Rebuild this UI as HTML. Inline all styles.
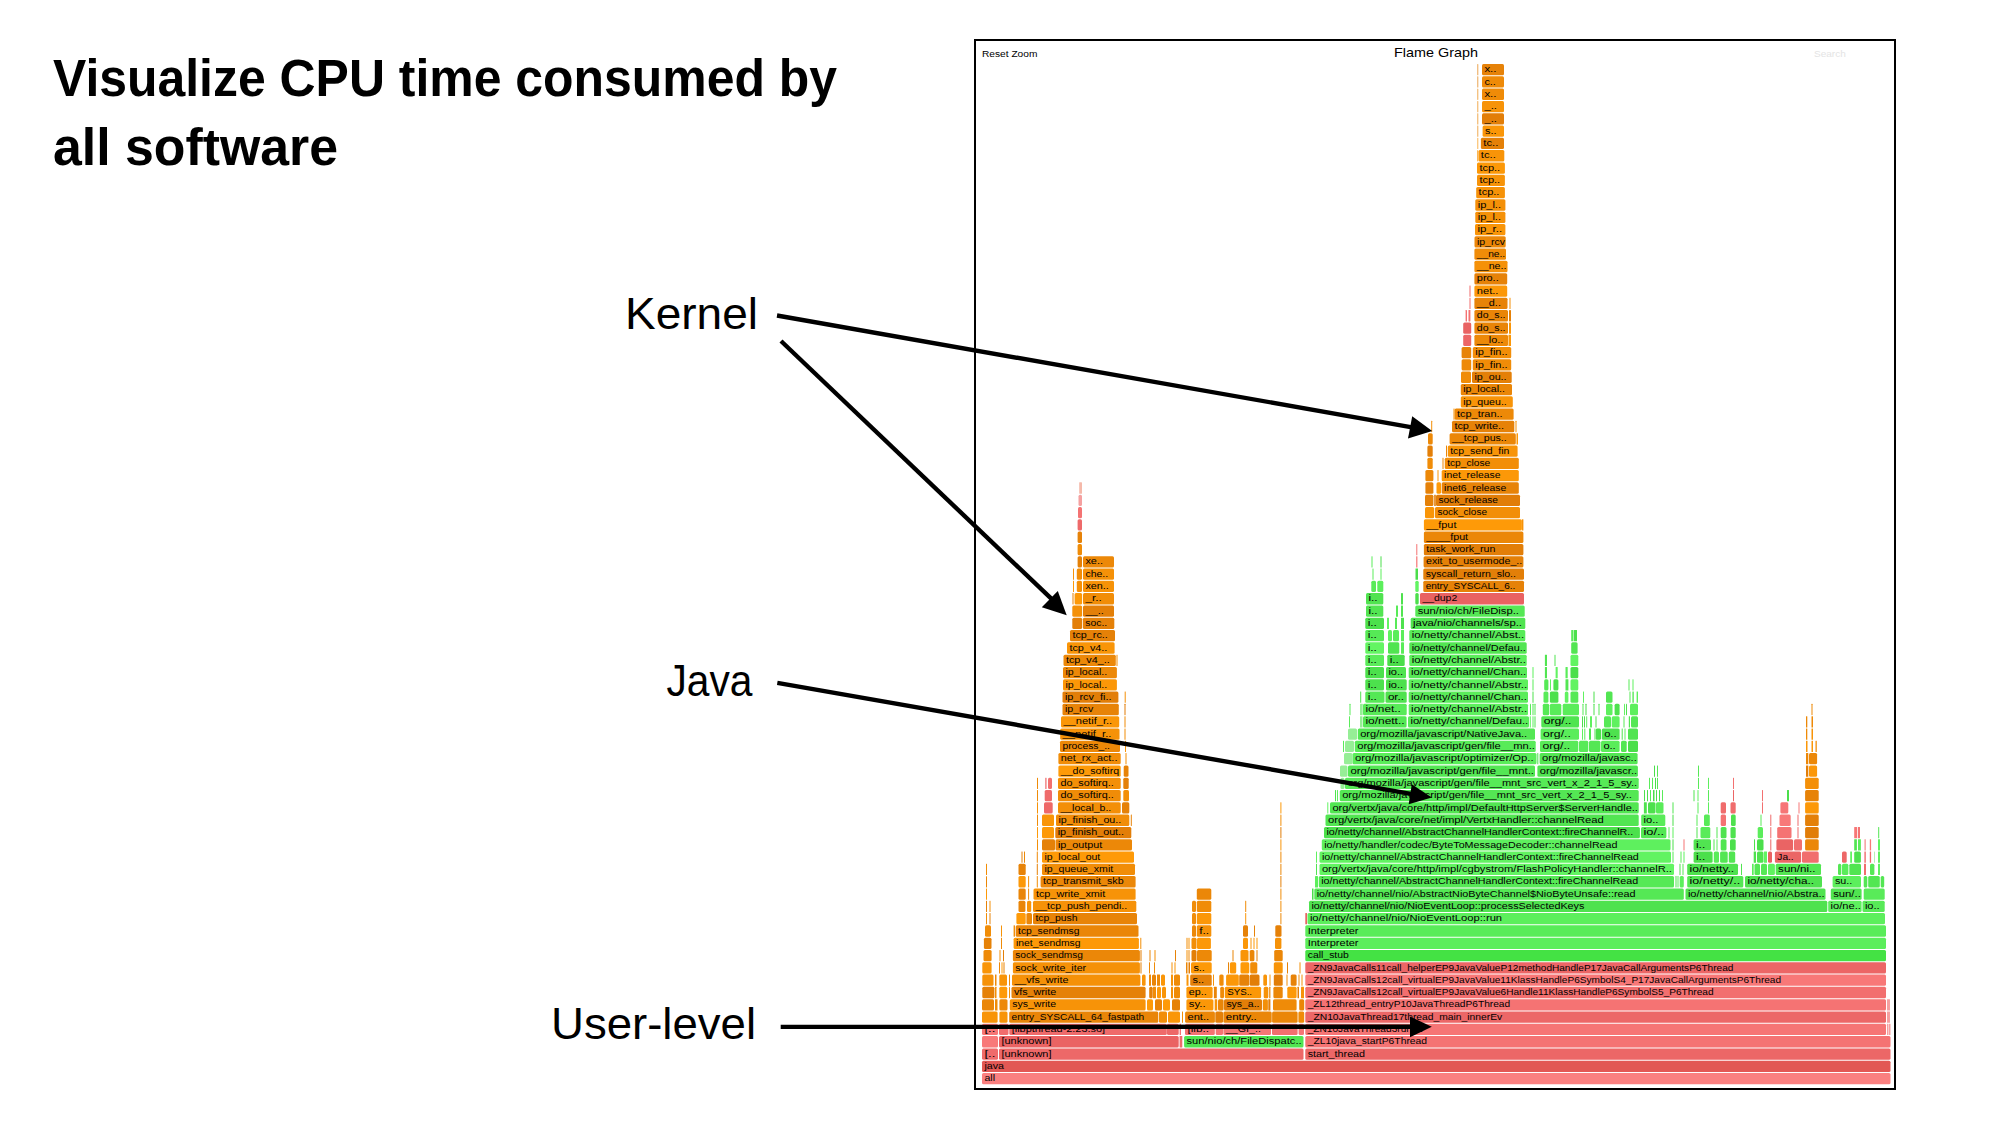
<!DOCTYPE html>
<html><head><meta charset="utf-8"><title>Flame Graph</title>
<style>
html,body{margin:0;padding:0;background:#fff;}
body{width:1998px;height:1125px;overflow:hidden;position:relative;}
svg{position:absolute;left:0;top:0;}
.t{font-family:"Liberation Sans",sans-serif;}
.fg text{font-family:"Liberation Sans",sans-serif;font-size:9.2px;fill:#000;}
</style></head>
<body>
<svg width="1998" height="1125" viewBox="0 0 1998 1125">
<g class="t" font-weight="bold" font-size="51" fill="#000">
<text x="53" y="95.6" textLength="784" lengthAdjust="spacingAndGlyphs">Visualize CPU time consumed by</text>
<text x="53" y="164.5" textLength="285" lengthAdjust="spacingAndGlyphs">all software</text>
</g>
<g class="t" font-size="44.7" fill="#000" text-anchor="end">
<text x="758" y="329" textLength="133" lengthAdjust="spacingAndGlyphs">Kernel</text>
<text x="752.5" y="695.6" textLength="86" lengthAdjust="spacingAndGlyphs">Java</text>
<text x="756" y="1039.2" textLength="205" lengthAdjust="spacingAndGlyphs">User-level</text>
</g>
<rect x="975" y="40" width="920" height="1049" fill="#fff" stroke="#000" stroke-width="2"/>
<g class="t" fill="#000">
<text x="982" y="57" font-size="9.6" textLength="55.4" lengthAdjust="spacingAndGlyphs">Reset Zoom</text>
<text x="1436" y="57" font-size="13.4" text-anchor="middle" textLength="83.9" lengthAdjust="spacingAndGlyphs">Flame Graph</text>
<text x="1814" y="57" font-size="9.6" fill="#e4e4e4" textLength="31.8" lengthAdjust="spacingAndGlyphs">Search</text>
</g>
<g class="fg">
<rect x="982.0" y="1073.00" width="908.5" height="11.3" rx="1.5" fill="rgb(250,128,128)"/>
<rect x="982.0" y="1060.69" width="908.5" height="11.3" rx="1.5" fill="rgb(226,88,84)"/>
<rect x="982.0" y="1048.39" width="16.0" height="11.3" rx="1.5" fill="rgb(239,106,106)"/>
<rect x="999.0" y="1048.39" width="304.5" height="11.3" rx="1.5" fill="rgb(237,104,104)"/>
<rect x="1305.3" y="1048.39" width="585.2" height="11.3" rx="1.5" fill="rgb(236,103,103)"/>
<rect x="982.0" y="1036.09" width="16.0" height="11.3" rx="1.5" fill="rgb(248,121,121)"/>
<rect x="999.0" y="1036.09" width="179.7" height="11.3" rx="1.5" fill="rgb(234,99,99)"/>
<rect x="1179.6" y="1036.09" width="2.7" height="11.3" rx="0.3" fill="rgb(240,108,108)"/>
<rect x="1184.1" y="1036.09" width="119.4" height="11.3" rx="1.5" fill="rgb(81,228,81)"/>
<rect x="1305.3" y="1036.09" width="585.2" height="11.3" rx="1.5" fill="rgb(244,115,115)"/>
<rect x="982.0" y="1023.78" width="16.0" height="11.3" rx="1.5" fill="rgb(246,117,117)"/>
<rect x="999.0" y="1023.78" width="9.5" height="11.3" rx="1.5" fill="rgb(241,109,109)"/>
<rect x="1009.3" y="1023.78" width="157.5" height="11.3" rx="1.5" fill="rgb(239,107,107)"/>
<rect x="1167.0" y="1023.78" width="11.7" height="11.3" rx="1.5" fill="rgb(237,104,104)"/>
<rect x="1179.6" y="1023.78" width="1.4" height="11.3" rx="0.3" fill="rgb(245,116,116)"/>
<rect x="1185.0" y="1023.78" width="29.8" height="11.3" rx="1.5" fill="rgb(244,114,114)"/>
<rect x="1215.7" y="1023.78" width="7.3" height="11.3" rx="1.5" fill="rgb(245,115,115)"/>
<rect x="1223.4" y="1023.78" width="47.6" height="11.3" rx="1.5" fill="rgb(247,118,118)"/>
<rect x="1272.0" y="1023.78" width="25.6" height="11.3" rx="1.5" fill="rgb(242,111,111)"/>
<rect x="1298.6" y="1023.78" width="5.4" height="11.3" rx="1.5" fill="rgb(246,118,118)"/>
<rect x="1305.3" y="1023.78" width="580.7" height="11.3" rx="1.5" fill="rgb(246,117,117)"/>
<rect x="1887.0" y="1023.78" width="1.5" height="11.3" rx="0.3" fill="rgb(245,160,160)"/>
<rect x="1889.0" y="1023.78" width="1.5" height="11.3" rx="0.3" fill="rgb(245,160,160)"/>
<rect x="982.0" y="1011.48" width="15.6" height="11.3" rx="1.5" fill="rgb(248,148,8)"/>
<rect x="999.4" y="1011.48" width="8.1" height="11.3" rx="1.5" fill="rgb(248,148,8)"/>
<rect x="1009.2" y="1011.48" width="149.1" height="11.3" rx="1.5" fill="rgb(233,133,8)"/>
<rect x="1159.0" y="1011.48" width="8.0" height="11.3" rx="1.5" fill="rgb(242,142,8)"/>
<rect x="1168.0" y="1011.48" width="12.0" height="11.3" rx="1.5" fill="rgb(250,150,8)"/>
<rect x="1182.0" y="1011.48" width="1.0" height="11.3" rx="0.3" fill="rgb(241,141,8)"/>
<rect x="1185.1" y="1011.48" width="29.8" height="11.3" rx="1.5" fill="rgb(235,135,8)"/>
<rect x="1215.3" y="1011.48" width="7.7" height="11.3" rx="1.5" fill="rgb(227,127,8)"/>
<rect x="1223.4" y="1011.48" width="48.3" height="11.3" rx="1.5" fill="rgb(234,134,8)"/>
<rect x="1272.1" y="1011.48" width="25.5" height="11.3" rx="1.5" fill="rgb(234,134,8)"/>
<rect x="1298.4" y="1011.48" width="5.8" height="11.3" rx="1.5" fill="rgb(239,139,8)"/>
<rect x="1305.3" y="1011.48" width="580.7" height="11.3" rx="1.5" fill="rgb(236,103,103)"/>
<rect x="1887.0" y="1011.48" width="3.0" height="11.3" rx="0.3" fill="rgb(245,160,160)"/>
<rect x="982.0" y="999.17" width="12.0" height="11.3" rx="1.5" fill="rgb(234,134,8)"/>
<rect x="995.0" y="999.17" width="2.5" height="11.3" rx="0.3" fill="rgb(239,139,8)"/>
<rect x="999.4" y="999.17" width="8.1" height="11.3" rx="1.5" fill="rgb(237,137,8)"/>
<rect x="1009.8" y="999.17" width="135.8" height="11.3" rx="1.5" fill="rgb(247,147,8)"/>
<rect x="1147.0" y="999.17" width="6.0" height="11.3" rx="1.5" fill="rgb(254,154,8)"/>
<rect x="1155.0" y="999.17" width="7.0" height="11.3" rx="1.5" fill="rgb(232,132,8)"/>
<rect x="1163.0" y="999.17" width="7.0" height="11.3" rx="1.5" fill="rgb(254,154,8)"/>
<rect x="1172.0" y="999.17" width="8.0" height="11.3" rx="1.5" fill="rgb(230,130,8)"/>
<rect x="1186.4" y="999.17" width="27.0" height="11.3" rx="1.5" fill="rgb(251,151,8)"/>
<rect x="1214.7" y="999.17" width="2.5" height="11.3" rx="0.3" fill="rgb(247,147,8)"/>
<rect x="1218.0" y="999.17" width="5.6" height="11.3" rx="1.5" fill="rgb(233,133,8)"/>
<rect x="1224.0" y="999.17" width="38.0" height="11.3" rx="1.5" fill="rgb(226,126,8)"/>
<rect x="1262.8" y="999.17" width="5.1" height="11.3" rx="1.5" fill="rgb(243,143,8)"/>
<rect x="1268.3" y="999.17" width="2.1" height="11.3" rx="0.3" fill="rgb(225,125,8)"/>
<rect x="1273.0" y="999.17" width="23.6" height="11.3" rx="1.5" fill="rgb(239,139,8)"/>
<rect x="1299.2" y="999.17" width="5.0" height="11.3" rx="1.5" fill="rgb(234,134,8)"/>
<rect x="1305.3" y="999.17" width="580.7" height="11.3" rx="1.5" fill="rgb(245,115,115)"/>
<rect x="1887.0" y="999.17" width="3.0" height="11.3" rx="0.3" fill="rgb(245,160,160)"/>
<rect x="982.3" y="986.87" width="12.1" height="11.3" rx="1.5" fill="rgb(229,129,8)"/>
<rect x="995.0" y="986.87" width="1.5" height="11.3" rx="0.3" fill="rgb(243,143,8)"/>
<rect x="999.3" y="986.87" width="7.9" height="11.3" rx="1.5" fill="rgb(254,154,8)"/>
<rect x="1009.0" y="986.87" width="1.0" height="11.3" rx="0.3" fill="rgb(244,144,8)"/>
<rect x="1011.5" y="986.87" width="134.1" height="11.3" rx="1.5" fill="rgb(229,129,8)"/>
<rect x="1149.2" y="986.87" width="3.5" height="11.3" rx="1.5" fill="rgb(228,128,8)"/>
<rect x="1153.0" y="986.87" width="3.0" height="11.3" rx="0.3" fill="rgb(240,140,8)"/>
<rect x="1157.0" y="986.87" width="4.0" height="11.3" rx="1.5" fill="rgb(253,153,8)"/>
<rect x="1162.0" y="986.87" width="4.0" height="11.3" rx="1.5" fill="rgb(249,149,8)"/>
<rect x="1171.0" y="986.87" width="2.0" height="11.3" rx="0.3" fill="rgb(244,144,8)"/>
<rect x="1174.0" y="986.87" width="6.0" height="11.3" rx="1.5" fill="rgb(239,139,8)"/>
<rect x="1186.4" y="986.87" width="26.2" height="11.3" rx="1.5" fill="rgb(252,152,8)"/>
<rect x="1213.9" y="986.87" width="2.9" height="11.3" rx="0.3" fill="rgb(233,133,8)"/>
<rect x="1220.2" y="986.87" width="3.8" height="11.3" rx="1.5" fill="rgb(239,139,8)"/>
<rect x="1224.8" y="986.87" width="36.3" height="11.3" rx="1.5" fill="rgb(251,151,8)"/>
<rect x="1263.7" y="986.87" width="4.6" height="11.3" rx="1.5" fill="rgb(247,147,8)"/>
<rect x="1269.2" y="986.87" width="1.2" height="11.3" rx="0.3" fill="rgb(230,130,8)"/>
<rect x="1273.4" y="986.87" width="9.3" height="11.3" rx="1.5" fill="rgb(235,135,8)"/>
<rect x="1287.3" y="986.87" width="9.3" height="11.3" rx="1.5" fill="rgb(253,153,8)"/>
<rect x="1297.5" y="986.87" width="1.5" height="11.3" rx="0.3" fill="rgb(227,127,8)"/>
<rect x="1301.0" y="986.87" width="3.0" height="11.3" rx="0.3" fill="rgb(246,146,8)"/>
<rect x="1305.3" y="986.87" width="580.7" height="11.3" rx="1.5" fill="rgb(242,111,111)"/>
<rect x="982.3" y="974.56" width="11.2" height="11.3" rx="1.5" fill="rgb(246,146,8)"/>
<rect x="995.0" y="974.56" width="1.5" height="11.3" rx="0.3" fill="rgb(237,137,8)"/>
<rect x="999.3" y="974.56" width="7.7" height="11.3" rx="1.5" fill="rgb(248,148,8)"/>
<rect x="1009.0" y="974.56" width="1.0" height="11.3" rx="0.3" fill="rgb(236,136,8)"/>
<rect x="1012.0" y="974.56" width="128.4" height="11.3" rx="1.5" fill="rgb(245,145,8)"/>
<rect x="1142.0" y="974.56" width="3.6" height="11.3" rx="1.5" fill="rgb(248,148,8)"/>
<rect x="1149.0" y="974.56" width="2.0" height="11.3" rx="0.3" fill="rgb(238,138,8)"/>
<rect x="1152.0" y="974.56" width="4.0" height="11.3" rx="1.5" fill="rgb(233,133,8)"/>
<rect x="1157.0" y="974.56" width="3.0" height="11.3" rx="0.3" fill="rgb(237,137,8)"/>
<rect x="1161.0" y="974.56" width="4.0" height="11.3" rx="1.5" fill="rgb(250,150,8)"/>
<rect x="1171.0" y="974.56" width="2.0" height="11.3" rx="0.3" fill="rgb(246,146,8)"/>
<rect x="1174.0" y="974.56" width="6.0" height="11.3" rx="1.5" fill="rgb(239,139,8)"/>
<rect x="1186.5" y="974.56" width="2.0" height="11.3" rx="0.3" fill="rgb(250,150,8)"/>
<rect x="1190.2" y="974.56" width="21.5" height="11.3" rx="1.5" fill="rgb(228,128,8)"/>
<rect x="1213.0" y="974.56" width="1.0" height="11.3" rx="0.3" fill="rgb(247,147,8)"/>
<rect x="1219.3" y="974.56" width="4.3" height="11.3" rx="1.5" fill="rgb(240,140,8)"/>
<rect x="1226.1" y="974.56" width="12.7" height="11.3" rx="1.5" fill="rgb(251,151,8)"/>
<rect x="1239.2" y="974.56" width="10.1" height="11.3" rx="1.5" fill="rgb(230,130,8)"/>
<rect x="1249.7" y="974.56" width="9.8" height="11.3" rx="1.5" fill="rgb(226,126,8)"/>
<rect x="1263.3" y="974.56" width="3.7" height="11.3" rx="1.5" fill="rgb(248,148,8)"/>
<rect x="1269.5" y="974.56" width="1.0" height="11.3" rx="0.3" fill="rgb(248,148,8)"/>
<rect x="1273.8" y="974.56" width="8.9" height="11.3" rx="1.5" fill="rgb(225,125,8)"/>
<rect x="1286.5" y="974.56" width="1.0" height="11.3" rx="0.3" fill="rgb(243,143,8)"/>
<rect x="1290.7" y="974.56" width="5.9" height="11.3" rx="1.5" fill="rgb(231,131,8)"/>
<rect x="1298.5" y="974.56" width="1.0" height="11.3" rx="0.3" fill="rgb(239,139,8)"/>
<rect x="1301.5" y="974.56" width="1.0" height="11.3" rx="0.3" fill="rgb(244,144,8)"/>
<rect x="1305.3" y="974.56" width="580.7" height="11.3" rx="1.5" fill="rgb(248,120,120)"/>
<rect x="982.3" y="962.25" width="9.3" height="11.3" rx="1.5" fill="rgb(249,149,8)"/>
<rect x="999.0" y="962.25" width="1.0" height="11.3" rx="0.3" fill="rgb(236,136,8)"/>
<rect x="1001.5" y="962.25" width="1.0" height="11.3" rx="0.3" fill="rgb(253,153,8)"/>
<rect x="1003.5" y="962.25" width="1.0" height="11.3" rx="0.3" fill="rgb(232,132,8)"/>
<rect x="1012.9" y="962.25" width="127.0" height="11.3" rx="1.5" fill="rgb(245,145,8)"/>
<rect x="1140.5" y="962.25" width="1.0" height="11.3" rx="0.3" fill="rgb(229,129,8)"/>
<rect x="1149.0" y="962.25" width="1.0" height="11.3" rx="0.3" fill="rgb(236,136,8)"/>
<rect x="1154.0" y="962.25" width="1.0" height="11.3" rx="0.3" fill="rgb(240,140,8)"/>
<rect x="1171.5" y="962.25" width="1.0" height="11.3" rx="0.3" fill="rgb(243,143,8)"/>
<rect x="1174.5" y="962.25" width="1.0" height="11.3" rx="0.3" fill="rgb(250,150,8)"/>
<rect x="1186.0" y="962.25" width="1.5" height="11.3" rx="0.3" fill="rgb(235,135,8)"/>
<rect x="1188.5" y="962.25" width="1.5" height="11.3" rx="0.3" fill="rgb(226,126,8)"/>
<rect x="1191.0" y="962.25" width="20.7" height="11.3" rx="1.5" fill="rgb(253,153,8)"/>
<rect x="1228.0" y="962.25" width="1.0" height="11.3" rx="0.3" fill="rgb(232,132,8)"/>
<rect x="1229.9" y="962.25" width="6.3" height="11.3" rx="1.5" fill="rgb(253,153,8)"/>
<rect x="1240.5" y="962.25" width="8.8" height="11.3" rx="1.5" fill="rgb(254,154,8)"/>
<rect x="1250.2" y="962.25" width="7.1" height="11.3" rx="1.5" fill="rgb(241,141,8)"/>
<rect x="1273.8" y="962.25" width="8.9" height="11.3" rx="1.5" fill="rgb(248,148,8)"/>
<rect x="1287.0" y="962.25" width="1.0" height="11.3" rx="0.3" fill="rgb(229,129,8)"/>
<rect x="1299.5" y="962.25" width="1.0" height="11.3" rx="0.3" fill="rgb(243,143,8)"/>
<rect x="1305.3" y="962.25" width="580.7" height="11.3" rx="1.5" fill="rgb(236,102,102)"/>
<rect x="983.5" y="949.95" width="8.1" height="11.3" rx="1.5" fill="rgb(238,138,8)"/>
<rect x="999.5" y="949.95" width="1.0" height="11.3" rx="0.3" fill="rgb(244,144,8)"/>
<rect x="1003.0" y="949.95" width="1.0" height="11.3" rx="0.3" fill="rgb(227,127,8)"/>
<rect x="1012.9" y="949.95" width="127.0" height="11.3" rx="1.5" fill="rgb(235,135,8)"/>
<rect x="1140.5" y="949.95" width="1.0" height="11.3" rx="0.3" fill="rgb(228,128,8)"/>
<rect x="1149.5" y="949.95" width="1.0" height="11.3" rx="0.3" fill="rgb(234,134,8)"/>
<rect x="1154.5" y="949.95" width="1.0" height="11.3" rx="0.3" fill="rgb(244,144,8)"/>
<rect x="1175.0" y="949.95" width="1.0" height="11.3" rx="0.3" fill="rgb(231,131,8)"/>
<rect x="1186.5" y="949.95" width="1.0" height="11.3" rx="0.3" fill="rgb(246,146,8)"/>
<rect x="1188.5" y="949.95" width="1.0" height="11.3" rx="0.3" fill="rgb(237,137,8)"/>
<rect x="1191.5" y="949.95" width="5.0" height="11.3" rx="1.5" fill="rgb(227,127,8)"/>
<rect x="1197.0" y="949.95" width="14.7" height="11.3" rx="1.5" fill="rgb(237,137,8)"/>
<rect x="1232.5" y="949.95" width="1.0" height="11.3" rx="0.3" fill="rgb(234,134,8)"/>
<rect x="1240.5" y="949.95" width="8.0" height="11.3" rx="1.5" fill="rgb(249,149,8)"/>
<rect x="1249.7" y="949.95" width="4.7" height="11.3" rx="1.5" fill="rgb(235,135,8)"/>
<rect x="1256.5" y="949.95" width="1.0" height="11.3" rx="0.3" fill="rgb(227,127,8)"/>
<rect x="1274.2" y="949.95" width="8.5" height="11.3" rx="1.5" fill="rgb(235,135,8)"/>
<rect x="1305.3" y="949.95" width="580.7" height="11.3" rx="1.5" fill="rgb(68,226,68)"/>
<rect x="983.9" y="937.64" width="7.6" height="11.3" rx="1.5" fill="rgb(230,130,8)"/>
<rect x="1001.0" y="937.64" width="1.0" height="11.3" rx="0.3" fill="rgb(239,139,8)"/>
<rect x="1013.6" y="937.64" width="125.3" height="11.3" rx="1.5" fill="rgb(253,153,8)"/>
<rect x="1140.3" y="937.64" width="1.0" height="11.3" rx="0.3" fill="rgb(243,143,8)"/>
<rect x="1186.5" y="937.64" width="1.0" height="11.3" rx="0.3" fill="rgb(241,141,8)"/>
<rect x="1188.5" y="937.64" width="1.0" height="11.3" rx="0.3" fill="rgb(248,148,8)"/>
<rect x="1191.5" y="937.64" width="5.0" height="11.3" rx="1.5" fill="rgb(242,142,8)"/>
<rect x="1197.0" y="937.64" width="13.9" height="11.3" rx="1.5" fill="rgb(252,152,8)"/>
<rect x="1243.0" y="937.64" width="5.0" height="11.3" rx="1.5" fill="rgb(251,151,8)"/>
<rect x="1250.5" y="937.64" width="1.0" height="11.3" rx="0.3" fill="rgb(249,149,8)"/>
<rect x="1253.5" y="937.64" width="1.0" height="11.3" rx="0.3" fill="rgb(253,153,8)"/>
<rect x="1256.5" y="937.64" width="1.0" height="11.3" rx="0.3" fill="rgb(254,154,8)"/>
<rect x="1275.0" y="937.64" width="6.4" height="11.3" rx="1.5" fill="rgb(246,146,8)"/>
<rect x="1305.3" y="937.64" width="580.7" height="11.3" rx="1.5" fill="rgb(91,238,91)"/>
<rect x="985.0" y="925.34" width="6.0" height="11.3" rx="1.5" fill="rgb(241,141,8)"/>
<rect x="1001.0" y="925.34" width="1.0" height="11.3" rx="0.3" fill="rgb(247,147,8)"/>
<rect x="1013.6" y="925.34" width="1.4" height="11.3" rx="0.3" fill="rgb(241,141,8)"/>
<rect x="1015.7" y="925.34" width="122.8" height="11.3" rx="1.5" fill="rgb(234,134,8)"/>
<rect x="1192.0" y="925.34" width="4.0" height="11.3" rx="1.5" fill="rgb(236,136,8)"/>
<rect x="1196.8" y="925.34" width="14.5" height="11.3" rx="1.5" fill="rgb(245,145,8)"/>
<rect x="1243.0" y="925.34" width="5.0" height="11.3" rx="1.5" fill="rgb(230,130,8)"/>
<rect x="1254.0" y="925.34" width="1.0" height="11.3" rx="0.3" fill="rgb(231,131,8)"/>
<rect x="1275.3" y="925.34" width="6.2" height="11.3" rx="1.5" fill="rgb(229,129,8)"/>
<rect x="1305.3" y="925.34" width="580.7" height="11.3" rx="1.5" fill="rgb(89,236,89)"/>
<rect x="986.0" y="913.03" width="1.0" height="11.3" rx="0.3" fill="rgb(241,141,8)"/>
<rect x="989.5" y="913.03" width="1.0" height="11.3" rx="0.3" fill="rgb(230,130,8)"/>
<rect x="1016.4" y="913.03" width="9.3" height="11.3" rx="1.5" fill="rgb(254,154,8)"/>
<rect x="1026.4" y="913.03" width="5.6" height="11.3" rx="1.5" fill="rgb(235,135,8)"/>
<rect x="1033.0" y="913.03" width="104.0" height="11.3" rx="1.5" fill="rgb(232,132,8)"/>
<rect x="1192.0" y="913.03" width="4.0" height="11.3" rx="1.5" fill="rgb(240,140,8)"/>
<rect x="1196.8" y="913.03" width="14.5" height="11.3" rx="1.5" fill="rgb(251,151,8)"/>
<rect x="1245.2" y="913.03" width="1.0" height="11.3" rx="0.3" fill="rgb(251,151,8)"/>
<rect x="1280.4" y="913.03" width="1.0" height="11.3" rx="0.3" fill="rgb(237,137,8)"/>
<rect x="1305.3" y="913.03" width="1.7" height="11.3" rx="0.3" fill="rgb(233,98,98)"/>
<rect x="1307.5" y="913.03" width="577.5" height="11.3" rx="1.5" fill="rgb(92,239,92)"/>
<rect x="986.0" y="900.73" width="1.0" height="11.3" rx="0.3" fill="rgb(230,130,8)"/>
<rect x="989.5" y="900.73" width="1.0" height="11.3" rx="0.3" fill="rgb(244,144,8)"/>
<rect x="1018.5" y="900.73" width="6.9" height="11.3" rx="1.5" fill="rgb(233,133,8)"/>
<rect x="1027.0" y="900.73" width="4.2" height="11.3" rx="1.5" fill="rgb(247,147,8)"/>
<rect x="1033.0" y="900.73" width="103.3" height="11.3" rx="1.5" fill="rgb(246,146,8)"/>
<rect x="1192.0" y="900.73" width="4.0" height="11.3" rx="1.5" fill="rgb(240,140,8)"/>
<rect x="1196.8" y="900.73" width="14.5" height="11.3" rx="1.5" fill="rgb(240,140,8)"/>
<rect x="1245.2" y="900.73" width="1.0" height="11.3" rx="0.3" fill="rgb(240,140,8)"/>
<rect x="1280.4" y="900.73" width="1.0" height="11.3" rx="0.3" fill="rgb(242,142,8)"/>
<rect x="1309.0" y="900.73" width="518.3" height="11.3" rx="1.5" fill="rgb(79,226,79)"/>
<rect x="1828.2" y="900.73" width="33.4" height="11.3" rx="1.5" fill="rgb(93,239,93)"/>
<rect x="1862.5" y="900.73" width="22.2" height="11.3" rx="1.5" fill="rgb(87,234,87)"/>
<rect x="986.0" y="888.42" width="1.0" height="11.3" rx="0.3" fill="rgb(253,153,8)"/>
<rect x="1018.5" y="888.42" width="7.2" height="11.3" rx="1.5" fill="rgb(233,133,8)"/>
<rect x="1028.1" y="888.42" width="1.0" height="11.3" rx="0.3" fill="rgb(239,139,8)"/>
<rect x="1033.5" y="888.42" width="102.1" height="11.3" rx="1.5" fill="rgb(247,147,8)"/>
<rect x="1196.8" y="888.42" width="14.5" height="11.3" rx="1.5" fill="rgb(235,135,8)"/>
<rect x="1280.4" y="888.42" width="1.0" height="11.3" rx="0.3" fill="rgb(241,141,8)"/>
<rect x="1312.0" y="888.42" width="1.5" height="11.3" rx="0.3" fill="rgb(74,222,74)"/>
<rect x="1314.3" y="888.42" width="369.5" height="11.3" rx="1.5" fill="rgb(85,232,85)"/>
<rect x="1685.5" y="888.42" width="140.0" height="11.3" rx="1.5" fill="rgb(80,227,80)"/>
<rect x="1830.8" y="888.42" width="30.8" height="11.3" rx="1.5" fill="rgb(80,228,80)"/>
<rect x="1863.7" y="888.42" width="21.0" height="11.3" rx="1.5" fill="rgb(89,235,89)"/>
<rect x="986.0" y="876.12" width="1.0" height="11.3" rx="0.3" fill="rgb(235,135,8)"/>
<rect x="1018.5" y="876.12" width="7.2" height="11.3" rx="1.5" fill="rgb(252,152,8)"/>
<rect x="1028.1" y="876.12" width="1.0" height="11.3" rx="0.3" fill="rgb(244,144,8)"/>
<rect x="1036.8" y="876.12" width="1.0" height="11.3" rx="0.3" fill="rgb(241,141,8)"/>
<rect x="1040.6" y="876.12" width="95.0" height="11.3" rx="1.5" fill="rgb(235,135,8)"/>
<rect x="1280.4" y="876.12" width="1.0" height="11.3" rx="0.3" fill="rgb(229,129,8)"/>
<rect x="1315.0" y="876.12" width="3.0" height="11.3" rx="0.3" fill="rgb(93,239,93)"/>
<rect x="1318.8" y="876.12" width="355.2" height="11.3" rx="1.5" fill="rgb(86,233,86)"/>
<rect x="1675.5" y="876.12" width="1.0" height="11.3" rx="0.3" fill="rgb(80,227,80)"/>
<rect x="1677.5" y="876.12" width="1.0" height="11.3" rx="0.3" fill="rgb(90,237,90)"/>
<rect x="1679.7" y="876.12" width="4.1" height="11.3" rx="1.5" fill="rgb(93,240,93)"/>
<rect x="1687.2" y="876.12" width="56.1" height="11.3" rx="1.5" fill="rgb(83,230,83)"/>
<rect x="1745.0" y="876.12" width="77.0" height="11.3" rx="1.5" fill="rgb(79,226,79)"/>
<rect x="1832.6" y="876.12" width="28.4" height="11.3" rx="1.5" fill="rgb(92,239,92)"/>
<rect x="1863.7" y="876.12" width="3.6" height="11.3" rx="1.5" fill="rgb(83,230,83)"/>
<rect x="1868.2" y="876.12" width="11.6" height="11.3" rx="1.5" fill="rgb(82,230,82)"/>
<rect x="1880.7" y="876.12" width="3.5" height="11.3" rx="1.5" fill="rgb(83,230,83)"/>
<rect x="986.0" y="863.82" width="1.0" height="11.3" rx="0.3" fill="rgb(242,142,8)"/>
<rect x="1018.5" y="863.82" width="7.2" height="11.3" rx="1.5" fill="rgb(231,131,8)"/>
<rect x="1036.8" y="863.82" width="1.0" height="11.3" rx="0.3" fill="rgb(230,130,8)"/>
<rect x="1042.0" y="863.82" width="93.0" height="11.3" rx="1.5" fill="rgb(241,141,8)"/>
<rect x="1280.4" y="863.82" width="1.0" height="11.3" rx="0.3" fill="rgb(236,136,8)"/>
<rect x="1316.0" y="863.82" width="1.0" height="11.3" rx="0.3" fill="rgb(81,228,81)"/>
<rect x="1319.5" y="863.82" width="354.5" height="11.3" rx="1.5" fill="rgb(98,244,98)"/>
<rect x="1679.5" y="863.82" width="1.0" height="11.3" rx="0.3" fill="rgb(77,225,77)"/>
<rect x="1682.5" y="863.82" width="1.0" height="11.3" rx="0.3" fill="rgb(87,234,87)"/>
<rect x="1687.2" y="863.82" width="50.8" height="11.3" rx="1.5" fill="rgb(78,226,78)"/>
<rect x="1741.0" y="863.82" width="1.0" height="11.3" rx="0.3" fill="rgb(82,229,82)"/>
<rect x="1752.0" y="863.82" width="1.7" height="11.3" rx="0.3" fill="rgb(92,238,92)"/>
<rect x="1754.5" y="863.82" width="5.5" height="11.3" rx="1.5" fill="rgb(84,231,84)"/>
<rect x="1761.0" y="863.82" width="6.0" height="11.3" rx="1.5" fill="rgb(85,232,85)"/>
<rect x="1768.0" y="863.82" width="6.9" height="11.3" rx="1.5" fill="rgb(95,241,95)"/>
<rect x="1775.7" y="863.82" width="45.3" height="11.3" rx="1.5" fill="rgb(82,230,82)"/>
<rect x="1838.0" y="863.82" width="3.3" height="11.3" rx="1.5" fill="rgb(84,231,84)"/>
<rect x="1842.0" y="863.82" width="6.4" height="11.3" rx="1.5" fill="rgb(89,236,89)"/>
<rect x="1849.3" y="863.82" width="11.7" height="11.3" rx="1.5" fill="rgb(81,229,81)"/>
<rect x="1864.0" y="863.82" width="2.0" height="11.3" rx="0.3" fill="rgb(241,109,109)"/>
<rect x="1870.0" y="863.82" width="4.4" height="11.3" rx="1.5" fill="rgb(85,232,85)"/>
<rect x="1878.0" y="863.82" width="2.0" height="11.3" rx="0.3" fill="rgb(94,241,94)"/>
<rect x="1021.5" y="851.51" width="1.0" height="11.3" rx="0.3" fill="rgb(229,129,8)"/>
<rect x="1024.0" y="851.51" width="1.0" height="11.3" rx="0.3" fill="rgb(237,137,8)"/>
<rect x="1036.8" y="851.51" width="1.0" height="11.3" rx="0.3" fill="rgb(238,138,8)"/>
<rect x="1042.0" y="851.51" width="92.0" height="11.3" rx="1.5" fill="rgb(254,154,8)"/>
<rect x="1280.4" y="851.51" width="1.0" height="11.3" rx="0.3" fill="rgb(239,139,8)"/>
<rect x="1316.0" y="851.51" width="1.0" height="11.3" rx="0.3" fill="rgb(95,241,95)"/>
<rect x="1319.5" y="851.51" width="351.5" height="11.3" rx="1.5" fill="rgb(97,243,97)"/>
<rect x="1672.5" y="851.51" width="1.0" height="11.3" rx="0.3" fill="rgb(86,233,86)"/>
<rect x="1680.5" y="851.51" width="1.0" height="11.3" rx="0.3" fill="rgb(90,237,90)"/>
<rect x="1683.5" y="851.51" width="1.0" height="11.3" rx="0.3" fill="rgb(95,241,95)"/>
<rect x="1693.6" y="851.51" width="19.0" height="11.3" rx="1.5" fill="rgb(75,223,75)"/>
<rect x="1713.8" y="851.51" width="5.2" height="11.3" rx="1.5" fill="rgb(89,236,89)"/>
<rect x="1720.1" y="851.51" width="7.6" height="11.3" rx="1.5" fill="rgb(83,230,83)"/>
<rect x="1728.8" y="851.51" width="6.4" height="11.3" rx="1.5" fill="rgb(81,229,81)"/>
<rect x="1753.7" y="851.51" width="2.3" height="11.3" rx="0.3" fill="rgb(78,225,78)"/>
<rect x="1757.0" y="851.51" width="6.5" height="11.3" rx="1.5" fill="rgb(80,227,80)"/>
<rect x="1764.0" y="851.51" width="3.0" height="11.3" rx="0.3" fill="rgb(98,244,98)"/>
<rect x="1768.0" y="851.51" width="4.0" height="11.3" rx="1.5" fill="rgb(233,98,98)"/>
<rect x="1774.9" y="851.51" width="26.2" height="11.3" rx="1.5" fill="rgb(235,101,101)"/>
<rect x="1802.0" y="851.51" width="16.7" height="11.3" rx="1.5" fill="rgb(241,110,110)"/>
<rect x="1842.0" y="851.51" width="4.7" height="11.3" rx="1.5" fill="rgb(237,103,103)"/>
<rect x="1850.2" y="851.51" width="1.8" height="11.3" rx="0.3" fill="rgb(97,243,97)"/>
<rect x="1854.2" y="851.51" width="6.7" height="11.3" rx="1.5" fill="rgb(77,225,77)"/>
<rect x="1864.4" y="851.51" width="1.4" height="11.3" rx="0.3" fill="rgb(239,107,107)"/>
<rect x="1869.8" y="851.51" width="1.3" height="11.3" rx="0.3" fill="rgb(238,105,105)"/>
<rect x="1874.3" y="851.51" width="0.7" height="11.3" rx="0.3" fill="rgb(150,238,150)"/>
<rect x="1878.0" y="851.51" width="2.0" height="11.3" rx="0.3" fill="rgb(93,239,93)"/>
<rect x="1037.0" y="839.21" width="1.0" height="11.3" rx="0.3" fill="rgb(243,143,8)"/>
<rect x="1042.0" y="839.21" width="13.0" height="11.3" rx="1.5" fill="rgb(229,129,8)"/>
<rect x="1055.5" y="839.21" width="76.5" height="11.3" rx="1.5" fill="rgb(236,136,8)"/>
<rect x="1280.4" y="839.21" width="1.0" height="11.3" rx="0.3" fill="rgb(249,149,8)"/>
<rect x="1321.8" y="839.21" width="348.7" height="11.3" rx="1.5" fill="rgb(94,240,94)"/>
<rect x="1672.5" y="839.21" width="1.0" height="11.3" rx="0.3" fill="rgb(76,224,76)"/>
<rect x="1683.5" y="839.21" width="1.0" height="11.3" rx="0.3" fill="rgb(246,117,117)"/>
<rect x="1693.6" y="839.21" width="17.4" height="11.3" rx="1.5" fill="rgb(81,228,81)"/>
<rect x="1713.5" y="839.21" width="1.0" height="11.3" rx="0.3" fill="rgb(84,231,84)"/>
<rect x="1716.5" y="839.21" width="1.0" height="11.3" rx="0.3" fill="rgb(92,239,92)"/>
<rect x="1720.7" y="839.21" width="5.8" height="11.3" rx="1.5" fill="rgb(81,229,81)"/>
<rect x="1730.0" y="839.21" width="5.7" height="11.3" rx="1.5" fill="rgb(76,224,76)"/>
<rect x="1754.0" y="839.21" width="1.0" height="11.3" rx="0.3" fill="rgb(77,225,77)"/>
<rect x="1757.0" y="839.21" width="6.5" height="11.3" rx="1.5" fill="rgb(75,223,75)"/>
<rect x="1770.3" y="839.21" width="1.0" height="11.3" rx="0.3" fill="rgb(235,102,102)"/>
<rect x="1776.4" y="839.21" width="16.7" height="11.3" rx="1.5" fill="rgb(234,100,100)"/>
<rect x="1794.0" y="839.21" width="8.0" height="11.3" rx="1.5" fill="rgb(241,111,111)"/>
<rect x="1805.1" y="839.21" width="13.6" height="11.3" rx="1.5" fill="rgb(235,135,8)"/>
<rect x="1854.2" y="839.21" width="2.7" height="11.3" rx="0.3" fill="rgb(81,229,81)"/>
<rect x="1858.0" y="839.21" width="2.9" height="11.3" rx="0.3" fill="rgb(90,237,90)"/>
<rect x="1864.6" y="839.21" width="1.0" height="11.3" rx="0.3" fill="rgb(240,109,109)"/>
<rect x="1869.8" y="839.21" width="1.3" height="11.3" rx="0.3" fill="rgb(248,120,120)"/>
<rect x="1878.0" y="839.21" width="2.0" height="11.3" rx="0.3" fill="rgb(98,244,98)"/>
<rect x="1037.0" y="826.90" width="1.0" height="11.3" rx="0.3" fill="rgb(254,154,8)"/>
<rect x="1042.0" y="826.90" width="12.0" height="11.3" rx="1.5" fill="rgb(253,153,8)"/>
<rect x="1055.3" y="826.90" width="76.0" height="11.3" rx="1.5" fill="rgb(226,126,8)"/>
<rect x="1280.4" y="826.90" width="1.0" height="11.3" rx="0.3" fill="rgb(226,126,8)"/>
<rect x="1324.0" y="826.90" width="315.9" height="11.3" rx="1.5" fill="rgb(76,224,76)"/>
<rect x="1641.0" y="826.90" width="25.4" height="11.3" rx="1.5" fill="rgb(83,231,83)"/>
<rect x="1668.5" y="826.90" width="1.0" height="11.3" rx="0.3" fill="rgb(95,241,95)"/>
<rect x="1672.5" y="826.90" width="1.0" height="11.3" rx="0.3" fill="rgb(95,241,95)"/>
<rect x="1696.5" y="826.90" width="1.0" height="11.3" rx="0.3" fill="rgb(82,230,82)"/>
<rect x="1700.5" y="826.90" width="9.8" height="11.3" rx="1.5" fill="rgb(89,235,89)"/>
<rect x="1716.5" y="826.90" width="1.0" height="11.3" rx="0.3" fill="rgb(84,231,84)"/>
<rect x="1720.7" y="826.90" width="5.8" height="11.3" rx="1.5" fill="rgb(80,227,80)"/>
<rect x="1730.5" y="826.90" width="5.2" height="11.3" rx="1.5" fill="rgb(79,227,79)"/>
<rect x="1757.7" y="826.90" width="5.3" height="11.3" rx="1.5" fill="rgb(91,237,91)"/>
<rect x="1770.3" y="826.90" width="1.0" height="11.3" rx="0.3" fill="rgb(240,108,108)"/>
<rect x="1777.2" y="826.90" width="14.3" height="11.3" rx="1.5" fill="rgb(245,115,115)"/>
<rect x="1797.5" y="826.90" width="1.0" height="11.3" rx="0.3" fill="rgb(238,105,105)"/>
<rect x="1805.1" y="826.90" width="13.6" height="11.3" rx="1.5" fill="rgb(225,125,8)"/>
<rect x="1854.2" y="826.90" width="2.8" height="11.3" rx="0.3" fill="rgb(247,118,118)"/>
<rect x="1857.8" y="826.90" width="2.2" height="11.3" rx="0.3" fill="rgb(244,114,114)"/>
<rect x="1878.2" y="826.90" width="1.0" height="11.3" rx="0.3" fill="rgb(82,230,82)"/>
<rect x="1037.0" y="814.60" width="1.0" height="11.3" rx="0.3" fill="rgb(240,140,8)"/>
<rect x="1042.0" y="814.60" width="12.0" height="11.3" rx="1.5" fill="rgb(249,149,8)"/>
<rect x="1056.0" y="814.60" width="73.3" height="11.3" rx="1.5" fill="rgb(241,141,8)"/>
<rect x="1130.8" y="814.60" width="1.0" height="11.3" rx="0.3" fill="rgb(231,131,8)"/>
<rect x="1280.4" y="814.60" width="1.0" height="11.3" rx="0.3" fill="rgb(242,142,8)"/>
<rect x="1325.5" y="814.60" width="313.2" height="11.3" rx="1.5" fill="rgb(82,229,82)"/>
<rect x="1641.2" y="814.60" width="24.1" height="11.3" rx="1.5" fill="rgb(89,236,89)"/>
<rect x="1672.5" y="814.60" width="1.0" height="11.3" rx="0.3" fill="rgb(76,224,76)"/>
<rect x="1696.5" y="814.60" width="1.0" height="11.3" rx="0.3" fill="rgb(88,235,88)"/>
<rect x="1704.0" y="814.60" width="5.8" height="11.3" rx="1.5" fill="rgb(88,234,88)"/>
<rect x="1720.7" y="814.60" width="5.3" height="11.3" rx="1.5" fill="rgb(244,114,114)"/>
<rect x="1731.0" y="814.60" width="4.7" height="11.3" rx="1.5" fill="rgb(78,225,78)"/>
<rect x="1760.5" y="814.60" width="1.0" height="11.3" rx="0.3" fill="rgb(89,236,89)"/>
<rect x="1770.3" y="814.60" width="1.0" height="11.3" rx="0.3" fill="rgb(239,107,107)"/>
<rect x="1779.5" y="814.60" width="11.2" height="11.3" rx="1.5" fill="rgb(248,121,121)"/>
<rect x="1797.5" y="814.60" width="1.0" height="11.3" rx="0.3" fill="rgb(240,108,108)"/>
<rect x="1805.1" y="814.60" width="13.6" height="11.3" rx="1.5" fill="rgb(228,128,8)"/>
<rect x="1037.0" y="802.29" width="1.0" height="11.3" rx="0.3" fill="rgb(246,146,8)"/>
<rect x="1044.0" y="802.29" width="8.7" height="11.3" rx="1.5" fill="rgb(238,105,105)"/>
<rect x="1058.0" y="802.29" width="62.7" height="11.3" rx="1.5" fill="rgb(243,143,8)"/>
<rect x="1122.0" y="802.29" width="7.3" height="11.3" rx="1.5" fill="rgb(229,129,8)"/>
<rect x="1280.4" y="802.29" width="1.0" height="11.3" rx="0.3" fill="rgb(252,152,8)"/>
<rect x="1327.3" y="802.29" width="1.0" height="11.3" rx="0.3" fill="rgb(98,244,98)"/>
<rect x="1330.0" y="802.29" width="308.7" height="11.3" rx="1.5" fill="rgb(82,230,82)"/>
<rect x="1643.9" y="802.29" width="2.9" height="11.3" rx="0.3" fill="rgb(79,226,79)"/>
<rect x="1648.0" y="802.29" width="7.5" height="11.3" rx="1.5" fill="rgb(77,225,77)"/>
<rect x="1656.0" y="802.29" width="7.5" height="11.3" rx="1.5" fill="rgb(89,236,89)"/>
<rect x="1672.5" y="802.29" width="1.0" height="11.3" rx="0.3" fill="rgb(83,230,83)"/>
<rect x="1697.5" y="802.29" width="1.0" height="11.3" rx="0.3" fill="rgb(91,237,91)"/>
<rect x="1708.0" y="802.29" width="1.0" height="11.3" rx="0.3" fill="rgb(92,239,92)"/>
<rect x="1720.7" y="802.29" width="5.3" height="11.3" rx="1.5" fill="rgb(240,108,108)"/>
<rect x="1730.5" y="802.29" width="5.2" height="11.3" rx="1.5" fill="rgb(240,109,109)"/>
<rect x="1762.0" y="802.29" width="1.0" height="11.3" rx="0.3" fill="rgb(242,112,112)"/>
<rect x="1780.4" y="802.29" width="7.9" height="11.3" rx="1.5" fill="rgb(246,118,118)"/>
<rect x="1798.5" y="802.29" width="1.0" height="11.3" rx="0.3" fill="rgb(248,120,120)"/>
<rect x="1805.1" y="802.29" width="13.6" height="11.3" rx="1.5" fill="rgb(252,152,8)"/>
<rect x="1037.0" y="789.99" width="1.0" height="11.3" rx="0.3" fill="rgb(239,139,8)"/>
<rect x="1044.7" y="789.99" width="7.3" height="11.3" rx="1.5" fill="rgb(239,107,107)"/>
<rect x="1058.0" y="789.99" width="62.7" height="11.3" rx="1.5" fill="rgb(240,140,8)"/>
<rect x="1123.3" y="789.99" width="5.7" height="11.3" rx="1.5" fill="rgb(243,143,8)"/>
<rect x="1335.0" y="789.99" width="1.0" height="11.3" rx="0.3" fill="rgb(79,227,79)"/>
<rect x="1337.0" y="789.99" width="1.0" height="11.3" rx="0.3" fill="rgb(93,239,93)"/>
<rect x="1339.8" y="789.99" width="298.9" height="11.3" rx="1.5" fill="rgb(84,231,84)"/>
<rect x="1644.0" y="789.99" width="1.0" height="11.3" rx="0.3" fill="rgb(77,225,77)"/>
<rect x="1647.0" y="789.99" width="1.0" height="11.3" rx="0.3" fill="rgb(75,223,75)"/>
<rect x="1650.0" y="789.99" width="1.0" height="11.3" rx="0.3" fill="rgb(88,235,88)"/>
<rect x="1653.0" y="789.99" width="1.5" height="11.3" rx="0.3" fill="rgb(74,222,74)"/>
<rect x="1656.0" y="789.99" width="1.0" height="11.3" rx="0.3" fill="rgb(77,224,77)"/>
<rect x="1659.0" y="789.99" width="1.0" height="11.3" rx="0.3" fill="rgb(74,222,74)"/>
<rect x="1662.0" y="789.99" width="1.0" height="11.3" rx="0.3" fill="rgb(89,236,89)"/>
<rect x="1693.5" y="789.99" width="1.0" height="11.3" rx="0.3" fill="rgb(83,230,83)"/>
<rect x="1697.5" y="789.99" width="1.0" height="11.3" rx="0.3" fill="rgb(95,242,95)"/>
<rect x="1708.0" y="789.99" width="1.0" height="11.3" rx="0.3" fill="rgb(88,235,88)"/>
<rect x="1733.0" y="789.99" width="1.0" height="11.3" rx="0.3" fill="rgb(235,101,101)"/>
<rect x="1762.0" y="789.99" width="1.0" height="11.3" rx="0.3" fill="rgb(243,113,113)"/>
<rect x="1787.0" y="789.99" width="2.0" height="11.3" rx="0.3" fill="rgb(75,223,75)"/>
<rect x="1805.1" y="789.99" width="13.6" height="11.3" rx="1.5" fill="rgb(231,131,8)"/>
<rect x="1037.0" y="777.68" width="1.0" height="11.3" rx="0.3" fill="rgb(239,139,8)"/>
<rect x="1045.3" y="777.68" width="1.2" height="11.3" rx="0.3" fill="rgb(238,105,105)"/>
<rect x="1048.0" y="777.68" width="4.0" height="11.3" rx="1.5" fill="rgb(242,112,112)"/>
<rect x="1058.0" y="777.68" width="62.7" height="11.3" rx="1.5" fill="rgb(243,143,8)"/>
<rect x="1123.3" y="777.68" width="5.4" height="11.3" rx="1.5" fill="rgb(228,128,8)"/>
<rect x="1345.0" y="777.68" width="293.7" height="11.3" rx="1.5" fill="rgb(87,234,87)"/>
<rect x="1649.0" y="777.68" width="1.0" height="11.3" rx="0.3" fill="rgb(91,237,91)"/>
<rect x="1652.0" y="777.68" width="1.0" height="11.3" rx="0.3" fill="rgb(88,235,88)"/>
<rect x="1655.0" y="777.68" width="1.0" height="11.3" rx="0.3" fill="rgb(76,223,76)"/>
<rect x="1657.0" y="777.68" width="1.0" height="11.3" rx="0.3" fill="rgb(85,232,85)"/>
<rect x="1698.0" y="777.68" width="1.0" height="11.3" rx="0.3" fill="rgb(88,235,88)"/>
<rect x="1708.0" y="777.68" width="1.0" height="11.3" rx="0.3" fill="rgb(93,240,93)"/>
<rect x="1733.0" y="777.68" width="1.0" height="11.3" rx="0.3" fill="rgb(243,113,113)"/>
<rect x="1805.1" y="777.68" width="13.6" height="11.3" rx="1.5" fill="rgb(244,144,8)"/>
<rect x="1340.5" y="777.68" width="4.0" height="11.3" rx="1.5" fill="rgb(150,238,150)"/>
<rect x="1058.4" y="765.38" width="62.3" height="11.3" rx="1.5" fill="rgb(254,154,8)"/>
<rect x="1123.7" y="765.38" width="4.8" height="11.3" rx="1.5" fill="rgb(231,131,8)"/>
<rect x="1348.0" y="765.38" width="187.0" height="11.3" rx="1.5" fill="rgb(84,231,84)"/>
<rect x="1537.4" y="765.38" width="100.5" height="11.3" rx="1.5" fill="rgb(80,228,80)"/>
<rect x="1654.0" y="765.38" width="1.0" height="11.3" rx="0.3" fill="rgb(75,222,75)"/>
<rect x="1657.0" y="765.38" width="1.0" height="11.3" rx="0.3" fill="rgb(84,232,84)"/>
<rect x="1698.0" y="765.38" width="1.0" height="11.3" rx="0.3" fill="rgb(86,233,86)"/>
<rect x="1806.0" y="765.38" width="2.3" height="11.3" rx="0.3" fill="rgb(226,126,8)"/>
<rect x="1809.0" y="765.38" width="8.1" height="11.3" rx="1.5" fill="rgb(251,151,8)"/>
<rect x="1340.0" y="765.38" width="7.5" height="11.3" rx="1.5" fill="rgb(150,238,150)"/>
<rect x="1058.4" y="753.07" width="62.3" height="11.3" rx="1.5" fill="rgb(241,141,8)"/>
<rect x="1125.5" y="753.07" width="1.0" height="11.3" rx="0.3" fill="rgb(244,144,8)"/>
<rect x="1352.5" y="753.07" width="184.0" height="11.3" rx="1.5" fill="rgb(90,237,90)"/>
<rect x="1537.3" y="753.07" width="1.0" height="11.3" rx="0.3" fill="rgb(76,224,76)"/>
<rect x="1539.6" y="753.07" width="98.0" height="11.3" rx="1.5" fill="rgb(83,230,83)"/>
<rect x="1806.0" y="753.07" width="2.3" height="11.3" rx="0.3" fill="rgb(235,135,8)"/>
<rect x="1809.0" y="753.07" width="8.1" height="11.3" rx="1.5" fill="rgb(236,136,8)"/>
<rect x="1344.0" y="753.07" width="8.5" height="11.3" rx="1.5" fill="rgb(150,238,150)"/>
<rect x="1060.0" y="740.76" width="60.0" height="11.3" rx="1.5" fill="rgb(236,136,8)"/>
<rect x="1125.0" y="740.76" width="1.0" height="11.3" rx="0.3" fill="rgb(249,149,8)"/>
<rect x="1354.8" y="740.76" width="180.9" height="11.3" rx="1.5" fill="rgb(88,235,88)"/>
<rect x="1806.0" y="740.76" width="1.5" height="11.3" rx="0.3" fill="rgb(251,151,8)"/>
<rect x="1811.5" y="740.76" width="1.5" height="11.3" rx="0.3" fill="rgb(251,151,8)"/>
<rect x="1815.5" y="740.76" width="1.3" height="11.3" rx="0.3" fill="rgb(242,142,8)"/>
<rect x="1540.0" y="740.76" width="38.3" height="11.3" rx="1.5" fill="rgb(88,234,88)"/>
<rect x="1579.0" y="740.76" width="9.3" height="11.3" rx="1.5" fill="rgb(88,234,88)"/>
<rect x="1589.0" y="740.76" width="11.4" height="11.3" rx="1.5" fill="rgb(84,231,84)"/>
<rect x="1601.0" y="740.76" width="18.6" height="11.3" rx="1.5" fill="rgb(90,237,90)"/>
<rect x="1621.0" y="740.76" width="5.7" height="11.3" rx="1.5" fill="rgb(83,231,83)"/>
<rect x="1628.0" y="740.76" width="10.0" height="11.3" rx="1.5" fill="rgb(75,223,75)"/>
<rect x="1343.0" y="740.76" width="1.0" height="11.3" rx="0.3" fill="rgb(89,236,89)"/>
<rect x="1345.0" y="740.76" width="9.0" height="11.3" rx="1.5" fill="rgb(150,238,150)"/>
<rect x="1060.2" y="728.46" width="59.3" height="11.3" rx="1.5" fill="rgb(246,146,8)"/>
<rect x="1124.5" y="728.46" width="1.0" height="11.3" rx="0.3" fill="rgb(242,142,8)"/>
<rect x="1357.8" y="728.46" width="177.2" height="11.3" rx="1.5" fill="rgb(84,231,84)"/>
<rect x="1806.0" y="728.46" width="1.3" height="11.3" rx="0.3" fill="rgb(239,139,8)"/>
<rect x="1811.5" y="728.46" width="1.5" height="11.3" rx="0.3" fill="rgb(248,148,8)"/>
<rect x="1540.6" y="728.46" width="38.4" height="11.3" rx="1.5" fill="rgb(90,237,90)"/>
<rect x="1582.0" y="728.46" width="1.0" height="11.3" rx="0.3" fill="rgb(96,242,96)"/>
<rect x="1584.3" y="728.46" width="1.0" height="11.3" rx="0.3" fill="rgb(90,237,90)"/>
<rect x="1589.0" y="728.46" width="2.0" height="11.3" rx="0.3" fill="rgb(82,230,82)"/>
<rect x="1594.5" y="728.46" width="0.8" height="11.3" rx="0.3" fill="rgb(80,227,80)"/>
<rect x="1595.6" y="728.46" width="5.4" height="11.3" rx="1.5" fill="rgb(76,224,76)"/>
<rect x="1601.8" y="728.46" width="17.8" height="11.3" rx="1.5" fill="rgb(78,225,78)"/>
<rect x="1621.7" y="728.46" width="1.0" height="11.3" rx="0.3" fill="rgb(81,228,81)"/>
<rect x="1624.5" y="728.46" width="1.0" height="11.3" rx="0.3" fill="rgb(97,243,97)"/>
<rect x="1628.0" y="728.46" width="10.0" height="11.3" rx="1.5" fill="rgb(81,228,81)"/>
<rect x="1348.0" y="728.46" width="9.0" height="11.3" rx="1.5" fill="rgb(150,238,150)"/>
<rect x="1061.0" y="716.15" width="58.2" height="11.3" rx="1.5" fill="rgb(250,150,8)"/>
<rect x="1124.5" y="716.15" width="1.0" height="11.3" rx="0.3" fill="rgb(240,140,8)"/>
<rect x="1363.0" y="716.15" width="43.6" height="11.3" rx="1.5" fill="rgb(84,231,84)"/>
<rect x="1408.0" y="716.15" width="121.0" height="11.3" rx="1.5" fill="rgb(89,236,89)"/>
<rect x="1806.0" y="716.15" width="1.3" height="11.3" rx="0.3" fill="rgb(236,136,8)"/>
<rect x="1811.5" y="716.15" width="1.5" height="11.3" rx="0.3" fill="rgb(238,138,8)"/>
<rect x="1529.8" y="716.15" width="1.0" height="11.3" rx="0.3" fill="rgb(95,241,95)"/>
<rect x="1532.5" y="716.15" width="1.0" height="11.3" rx="0.3" fill="rgb(94,240,94)"/>
<rect x="1534.5" y="716.15" width="1.0" height="11.3" rx="0.3" fill="rgb(80,227,80)"/>
<rect x="1541.3" y="716.15" width="37.7" height="11.3" rx="1.5" fill="rgb(80,228,80)"/>
<rect x="1582.0" y="716.15" width="1.0" height="11.3" rx="0.3" fill="rgb(76,224,76)"/>
<rect x="1584.0" y="716.15" width="1.0" height="11.3" rx="0.3" fill="rgb(78,225,78)"/>
<rect x="1586.2" y="716.15" width="1.0" height="11.3" rx="0.3" fill="rgb(94,240,94)"/>
<rect x="1590.0" y="716.15" width="2.0" height="11.3" rx="0.3" fill="rgb(95,241,95)"/>
<rect x="1595.5" y="716.15" width="1.0" height="11.3" rx="0.3" fill="rgb(79,226,79)"/>
<rect x="1604.0" y="716.15" width="7.0" height="11.3" rx="1.5" fill="rgb(86,233,86)"/>
<rect x="1611.7" y="716.15" width="7.9" height="11.3" rx="1.5" fill="rgb(95,241,95)"/>
<rect x="1623.5" y="716.15" width="1.0" height="11.3" rx="0.3" fill="rgb(88,235,88)"/>
<rect x="1628.8" y="716.15" width="1.2" height="11.3" rx="0.3" fill="rgb(83,230,83)"/>
<rect x="1631.0" y="716.15" width="7.0" height="11.3" rx="1.5" fill="rgb(84,231,84)"/>
<rect x="1349.0" y="716.15" width="1.0" height="11.3" rx="0.3" fill="rgb(90,236,90)"/>
<rect x="1360.0" y="716.15" width="2.5" height="11.3" rx="0.3" fill="rgb(150,238,150)"/>
<rect x="1062.5" y="703.85" width="56.3" height="11.3" rx="1.5" fill="rgb(231,131,8)"/>
<rect x="1124.5" y="703.85" width="1.0" height="11.3" rx="0.3" fill="rgb(225,125,8)"/>
<rect x="1363.0" y="703.85" width="43.7" height="11.3" rx="1.5" fill="rgb(88,234,88)"/>
<rect x="1408.7" y="703.85" width="119.3" height="11.3" rx="1.5" fill="rgb(94,240,94)"/>
<rect x="1811.5" y="703.85" width="1.0" height="11.3" rx="0.3" fill="rgb(238,138,8)"/>
<rect x="1530.0" y="703.85" width="1.0" height="11.3" rx="0.3" fill="rgb(87,234,87)"/>
<rect x="1532.5" y="703.85" width="1.0" height="11.3" rx="0.3" fill="rgb(84,231,84)"/>
<rect x="1534.5" y="703.85" width="1.0" height="11.3" rx="0.3" fill="rgb(87,234,87)"/>
<rect x="1542.8" y="703.85" width="6.4" height="11.3" rx="1.5" fill="rgb(86,233,86)"/>
<rect x="1549.9" y="703.85" width="11.4" height="11.3" rx="1.5" fill="rgb(89,236,89)"/>
<rect x="1562.7" y="703.85" width="16.3" height="11.3" rx="1.5" fill="rgb(90,237,90)"/>
<rect x="1582.5" y="703.85" width="1.0" height="11.3" rx="0.3" fill="rgb(89,236,89)"/>
<rect x="1585.5" y="703.85" width="1.0" height="11.3" rx="0.3" fill="rgb(75,223,75)"/>
<rect x="1593.5" y="703.85" width="1.0" height="11.3" rx="0.3" fill="rgb(79,226,79)"/>
<rect x="1598.5" y="703.85" width="1.0" height="11.3" rx="0.3" fill="rgb(86,233,86)"/>
<rect x="1606.0" y="703.85" width="6.5" height="11.3" rx="1.5" fill="rgb(93,240,93)"/>
<rect x="1614.6" y="703.85" width="5.0" height="11.3" rx="1.5" fill="rgb(77,225,77)"/>
<rect x="1624.0" y="703.85" width="1.0" height="11.3" rx="0.3" fill="rgb(98,244,98)"/>
<rect x="1626.0" y="703.85" width="1.0" height="11.3" rx="0.3" fill="rgb(79,226,79)"/>
<rect x="1630.0" y="703.85" width="8.0" height="11.3" rx="1.5" fill="rgb(92,239,92)"/>
<rect x="1349.5" y="703.85" width="1.0" height="11.3" rx="0.3" fill="rgb(89,235,89)"/>
<rect x="1360.0" y="703.85" width="2.7" height="11.3" rx="0.3" fill="rgb(150,238,150)"/>
<rect x="1062.5" y="691.55" width="55.9" height="11.3" rx="1.5" fill="rgb(226,126,8)"/>
<rect x="1124.7" y="691.55" width="1.0" height="11.3" rx="0.3" fill="rgb(244,144,8)"/>
<rect x="1365.3" y="691.55" width="19.2" height="11.3" rx="1.5" fill="rgb(85,232,85)"/>
<rect x="1385.5" y="691.55" width="21.2" height="11.3" rx="1.5" fill="rgb(79,226,79)"/>
<rect x="1408.7" y="691.55" width="119.3" height="11.3" rx="1.5" fill="rgb(90,236,90)"/>
<rect x="1532.5" y="691.55" width="1.0" height="11.3" rx="0.3" fill="rgb(79,226,79)"/>
<rect x="1543.5" y="691.55" width="4.9" height="11.3" rx="1.5" fill="rgb(88,235,88)"/>
<rect x="1549.9" y="691.55" width="8.5" height="11.3" rx="1.5" fill="rgb(76,224,76)"/>
<rect x="1564.8" y="691.55" width="3.6" height="11.3" rx="1.5" fill="rgb(96,242,96)"/>
<rect x="1570.5" y="691.55" width="7.8" height="11.3" rx="1.5" fill="rgb(86,233,86)"/>
<rect x="1583.0" y="691.55" width="1.0" height="11.3" rx="0.3" fill="rgb(95,242,95)"/>
<rect x="1593.5" y="691.55" width="1.0" height="11.3" rx="0.3" fill="rgb(77,224,77)"/>
<rect x="1606.0" y="691.55" width="6.5" height="11.3" rx="1.5" fill="rgb(82,229,82)"/>
<rect x="1629.5" y="691.55" width="1.0" height="11.3" rx="0.3" fill="rgb(87,234,87)"/>
<rect x="1632.4" y="691.55" width="1.4" height="11.3" rx="0.3" fill="rgb(87,234,87)"/>
<rect x="1636.6" y="691.55" width="1.4" height="11.3" rx="0.3" fill="rgb(93,240,93)"/>
<rect x="1360.2" y="691.55" width="1.0" height="11.3" rx="0.3" fill="rgb(79,226,79)"/>
<rect x="1063.0" y="679.24" width="53.9" height="11.3" rx="1.5" fill="rgb(251,151,8)"/>
<rect x="1365.3" y="679.24" width="18.7" height="11.3" rx="1.5" fill="rgb(77,225,77)"/>
<rect x="1386.0" y="679.24" width="20.7" height="11.3" rx="1.5" fill="rgb(76,224,76)"/>
<rect x="1408.7" y="679.24" width="119.3" height="11.3" rx="1.5" fill="rgb(92,239,92)"/>
<rect x="1532.5" y="679.24" width="1.0" height="11.3" rx="0.3" fill="rgb(91,238,91)"/>
<rect x="1544.2" y="679.24" width="4.2" height="11.3" rx="1.5" fill="rgb(86,233,86)"/>
<rect x="1550.0" y="679.24" width="1.0" height="11.3" rx="0.3" fill="rgb(98,244,98)"/>
<rect x="1553.4" y="679.24" width="5.0" height="11.3" rx="1.5" fill="rgb(78,226,78)"/>
<rect x="1565.5" y="679.24" width="2.9" height="11.3" rx="0.3" fill="rgb(83,230,83)"/>
<rect x="1570.5" y="679.24" width="7.8" height="11.3" rx="1.5" fill="rgb(97,243,97)"/>
<rect x="1628.5" y="679.24" width="1.0" height="11.3" rx="0.3" fill="rgb(88,235,88)"/>
<rect x="1632.5" y="679.24" width="1.0" height="11.3" rx="0.3" fill="rgb(96,242,96)"/>
<rect x="1063.0" y="666.93" width="53.9" height="11.3" rx="1.5" fill="rgb(236,136,8)"/>
<rect x="1365.3" y="666.93" width="18.7" height="11.3" rx="1.5" fill="rgb(76,224,76)"/>
<rect x="1386.0" y="666.93" width="20.0" height="11.3" rx="1.5" fill="rgb(79,227,79)"/>
<rect x="1408.7" y="666.93" width="118.3" height="11.3" rx="1.5" fill="rgb(86,233,86)"/>
<rect x="1532.5" y="666.93" width="1.0" height="11.3" rx="0.3" fill="rgb(94,241,94)"/>
<rect x="1544.9" y="666.93" width="2.1" height="11.3" rx="0.3" fill="rgb(82,229,82)"/>
<rect x="1555.6" y="666.93" width="2.1" height="11.3" rx="0.3" fill="rgb(97,243,97)"/>
<rect x="1565.5" y="666.93" width="2.2" height="11.3" rx="0.3" fill="rgb(89,236,89)"/>
<rect x="1570.5" y="666.93" width="7.8" height="11.3" rx="1.5" fill="rgb(75,223,75)"/>
<rect x="1063.5" y="654.63" width="52.3" height="11.3" rx="1.5" fill="rgb(236,136,8)"/>
<rect x="1116.5" y="654.63" width="1.0" height="11.3" rx="0.3" fill="rgb(243,143,8)"/>
<rect x="1365.3" y="654.63" width="18.7" height="11.3" rx="1.5" fill="rgb(90,236,90)"/>
<rect x="1387.3" y="654.63" width="17.4" height="11.3" rx="1.5" fill="rgb(74,222,74)"/>
<rect x="1409.3" y="654.63" width="117.4" height="11.3" rx="1.5" fill="rgb(91,238,91)"/>
<rect x="1544.9" y="654.63" width="2.1" height="11.3" rx="0.3" fill="rgb(82,229,82)"/>
<rect x="1554.5" y="654.63" width="1.0" height="11.3" rx="0.3" fill="rgb(82,229,82)"/>
<rect x="1570.5" y="654.63" width="7.8" height="11.3" rx="1.5" fill="rgb(98,244,98)"/>
<rect x="1067.0" y="642.33" width="47.6" height="11.3" rx="1.5" fill="rgb(249,149,8)"/>
<rect x="1365.3" y="642.33" width="18.7" height="11.3" rx="1.5" fill="rgb(99,245,99)"/>
<rect x="1388.0" y="642.33" width="11.3" height="11.3" rx="1.5" fill="rgb(81,228,81)"/>
<rect x="1401.0" y="642.33" width="3.0" height="11.3" rx="0.3" fill="rgb(89,236,89)"/>
<rect x="1409.3" y="642.33" width="117.4" height="11.3" rx="1.5" fill="rgb(82,229,82)"/>
<rect x="1571.2" y="642.33" width="6.4" height="11.3" rx="1.5" fill="rgb(82,229,82)"/>
<rect x="1070.0" y="630.02" width="45.0" height="11.3" rx="1.5" fill="rgb(229,129,8)"/>
<rect x="1365.3" y="630.02" width="18.7" height="11.3" rx="1.5" fill="rgb(86,233,86)"/>
<rect x="1388.0" y="630.02" width="4.0" height="11.3" rx="1.5" fill="rgb(95,242,95)"/>
<rect x="1393.0" y="630.02" width="6.0" height="11.3" rx="1.5" fill="rgb(90,237,90)"/>
<rect x="1401.0" y="630.02" width="3.0" height="11.3" rx="0.3" fill="rgb(91,237,91)"/>
<rect x="1409.3" y="630.02" width="116.0" height="11.3" rx="1.5" fill="rgb(88,235,88)"/>
<rect x="1571.2" y="630.02" width="2.3" height="11.3" rx="0.3" fill="rgb(89,236,89)"/>
<rect x="1574.0" y="630.02" width="3.0" height="11.3" rx="0.3" fill="rgb(77,224,77)"/>
<rect x="1072.3" y="617.72" width="9.8" height="11.3" rx="1.5" fill="rgb(227,127,8)"/>
<rect x="1082.9" y="617.72" width="31.4" height="11.3" rx="1.5" fill="rgb(229,129,8)"/>
<rect x="1365.3" y="617.72" width="18.7" height="11.3" rx="1.5" fill="rgb(76,224,76)"/>
<rect x="1387.0" y="617.72" width="2.0" height="11.3" rx="0.3" fill="rgb(97,243,97)"/>
<rect x="1395.0" y="617.72" width="2.0" height="11.3" rx="0.3" fill="rgb(87,234,87)"/>
<rect x="1401.0" y="617.72" width="3.0" height="11.3" rx="0.3" fill="rgb(78,226,78)"/>
<rect x="1410.7" y="617.72" width="114.6" height="11.3" rx="1.5" fill="rgb(81,228,81)"/>
<rect x="1072.3" y="605.41" width="9.8" height="11.3" rx="1.5" fill="rgb(244,144,8)"/>
<rect x="1083.0" y="605.41" width="31.0" height="11.3" rx="1.5" fill="rgb(227,127,8)"/>
<rect x="1366.0" y="605.41" width="17.3" height="11.3" rx="1.5" fill="rgb(82,229,82)"/>
<rect x="1396.0" y="605.41" width="2.0" height="11.3" rx="0.3" fill="rgb(88,235,88)"/>
<rect x="1401.0" y="605.41" width="2.0" height="11.3" rx="0.3" fill="rgb(82,229,82)"/>
<rect x="1415.3" y="605.41" width="109.4" height="11.3" rx="1.5" fill="rgb(85,232,85)"/>
<rect x="1072.5" y="593.11" width="1.0" height="11.3" rx="0.3" fill="rgb(229,129,8)"/>
<rect x="1074.6" y="593.11" width="7.5" height="11.3" rx="1.5" fill="rgb(253,153,8)"/>
<rect x="1083.0" y="593.11" width="31.0" height="11.3" rx="1.5" fill="rgb(241,141,8)"/>
<rect x="1366.0" y="593.11" width="17.3" height="11.3" rx="1.5" fill="rgb(80,227,80)"/>
<rect x="1401.0" y="593.11" width="2.0" height="11.3" rx="0.3" fill="rgb(78,225,78)"/>
<rect x="1415.3" y="593.11" width="3.4" height="11.3" rx="1.5" fill="rgb(75,223,75)"/>
<rect x="1420.0" y="593.11" width="104.0" height="11.3" rx="1.5" fill="rgb(233,98,98)"/>
<rect x="1073.0" y="580.80" width="1.0" height="11.3" rx="0.3" fill="rgb(253,153,8)"/>
<rect x="1076.8" y="580.80" width="5.2" height="11.3" rx="1.5" fill="rgb(243,143,8)"/>
<rect x="1083.0" y="580.80" width="31.0" height="11.3" rx="1.5" fill="rgb(246,146,8)"/>
<rect x="1371.3" y="580.80" width="4.7" height="11.3" rx="1.5" fill="rgb(88,235,88)"/>
<rect x="1377.3" y="580.80" width="6.0" height="11.3" rx="1.5" fill="rgb(92,239,92)"/>
<rect x="1415.3" y="580.80" width="3.4" height="11.3" rx="1.5" fill="rgb(98,244,98)"/>
<rect x="1423.3" y="580.80" width="100.7" height="11.3" rx="1.5" fill="rgb(230,130,8)"/>
<rect x="1073.0" y="568.50" width="1.0" height="11.3" rx="0.3" fill="rgb(246,146,8)"/>
<rect x="1076.8" y="568.50" width="5.2" height="11.3" rx="1.5" fill="rgb(241,141,8)"/>
<rect x="1083.0" y="568.50" width="31.0" height="11.3" rx="1.5" fill="rgb(245,145,8)"/>
<rect x="1372.5" y="568.50" width="1.0" height="11.3" rx="0.3" fill="rgb(92,238,92)"/>
<rect x="1380.5" y="568.50" width="1.0" height="11.3" rx="0.3" fill="rgb(92,239,92)"/>
<rect x="1415.5" y="568.50" width="2.5" height="11.3" rx="0.3" fill="rgb(74,222,74)"/>
<rect x="1423.3" y="568.50" width="100.7" height="11.3" rx="1.5" fill="rgb(227,127,8)"/>
<rect x="1077.6" y="556.19" width="4.4" height="11.3" rx="1.5" fill="rgb(228,128,8)"/>
<rect x="1083.0" y="556.19" width="31.0" height="11.3" rx="1.5" fill="rgb(236,136,8)"/>
<rect x="1371.5" y="556.19" width="1.0" height="11.3" rx="0.3" fill="rgb(91,238,91)"/>
<rect x="1380.5" y="556.19" width="1.0" height="11.3" rx="0.3" fill="rgb(76,223,76)"/>
<rect x="1416.2" y="556.19" width="1.2" height="11.3" rx="0.3" fill="rgb(245,116,116)"/>
<rect x="1423.6" y="556.19" width="99.8" height="11.3" rx="1.5" fill="rgb(228,128,8)"/>
<rect x="1077.6" y="543.88" width="4.4" height="11.3" rx="1.5" fill="rgb(240,140,8)"/>
<rect x="1416.3" y="543.88" width="1.0" height="11.3" rx="0.3" fill="rgb(244,115,115)"/>
<rect x="1423.9" y="543.88" width="99.5" height="11.3" rx="1.5" fill="rgb(226,126,8)"/>
<rect x="1077.6" y="531.58" width="4.4" height="11.3" rx="1.5" fill="rgb(230,130,8)"/>
<rect x="1423.9" y="531.58" width="99.5" height="11.3" rx="1.5" fill="rgb(235,135,8)"/>
<rect x="1077.6" y="519.27" width="4.4" height="11.3" rx="1.5" fill="rgb(238,106,106)"/>
<rect x="1423.9" y="519.27" width="98.0" height="11.3" rx="1.5" fill="rgb(254,154,8)"/>
<rect x="1522.0" y="519.27" width="1.4" height="11.3" rx="0.3" fill="rgb(246,146,8)"/>
<rect x="1078.0" y="506.97" width="4.0" height="11.3" rx="1.5" fill="rgb(244,115,115)"/>
<rect x="1425.0" y="506.97" width="9.2" height="11.3" rx="1.5" fill="rgb(249,149,8)"/>
<rect x="1435.0" y="506.97" width="85.0" height="11.3" rx="1.5" fill="rgb(242,142,8)"/>
<rect x="1078.5" y="494.66" width="3.5" height="11.3" rx="1.5" fill="rgb(245,160,160)"/>
<rect x="1425.0" y="494.66" width="8.4" height="11.3" rx="1.5" fill="rgb(229,129,8)"/>
<rect x="1434.2" y="494.66" width="1.6" height="11.3" rx="0.3" fill="rgb(226,126,8)"/>
<rect x="1436.0" y="494.66" width="84.0" height="11.3" rx="1.5" fill="rgb(225,125,8)"/>
<rect x="1079.2" y="482.36" width="2.8" height="11.3" rx="0.3" fill="rgb(245,185,170)"/>
<rect x="1425.4" y="482.36" width="8.0" height="11.3" rx="1.5" fill="rgb(229,129,8)"/>
<rect x="1436.5" y="482.36" width="4.5" height="11.3" rx="1.5" fill="rgb(254,154,8)"/>
<rect x="1441.7" y="482.36" width="77.1" height="11.3" rx="1.5" fill="rgb(231,131,8)"/>
<rect x="1425.4" y="470.06" width="8.0" height="11.3" rx="1.5" fill="rgb(236,136,8)"/>
<rect x="1437.5" y="470.06" width="1.0" height="11.3" rx="0.3" fill="rgb(251,151,8)"/>
<rect x="1441.7" y="470.06" width="77.1" height="11.3" rx="1.5" fill="rgb(252,152,8)"/>
<rect x="1427.4" y="457.75" width="5.3" height="11.3" rx="1.5" fill="rgb(240,140,8)"/>
<rect x="1442.5" y="457.75" width="1.0" height="11.3" rx="0.3" fill="rgb(235,135,8)"/>
<rect x="1444.8" y="457.75" width="74.0" height="11.3" rx="1.5" fill="rgb(242,142,8)"/>
<rect x="1427.4" y="445.45" width="5.3" height="11.3" rx="1.5" fill="rgb(227,127,8)"/>
<rect x="1446.0" y="445.45" width="1.0" height="11.3" rx="0.3" fill="rgb(234,134,8)"/>
<rect x="1447.8" y="445.45" width="69.8" height="11.3" rx="1.5" fill="rgb(248,148,8)"/>
<rect x="1428.0" y="433.14" width="4.7" height="11.3" rx="1.5" fill="rgb(237,137,8)"/>
<rect x="1449.6" y="433.14" width="66.2" height="11.3" rx="1.5" fill="rgb(235,135,8)"/>
<rect x="1516.5" y="433.14" width="1.5" height="11.3" rx="0.3" fill="rgb(252,152,8)"/>
<rect x="1431.2" y="420.84" width="1.0" height="11.3" rx="0.3" fill="rgb(243,143,8)"/>
<rect x="1452.0" y="420.84" width="62.3" height="11.3" rx="1.5" fill="rgb(230,130,8)"/>
<rect x="1515.5" y="420.84" width="1.0" height="11.3" rx="0.3" fill="rgb(248,148,8)"/>
<rect x="1453.5" y="408.53" width="1.0" height="11.3" rx="0.3" fill="rgb(247,147,8)"/>
<rect x="1454.6" y="408.53" width="59.0" height="11.3" rx="1.5" fill="rgb(237,137,8)"/>
<rect x="1460.8" y="396.23" width="52.0" height="11.3" rx="1.5" fill="rgb(248,148,8)"/>
<rect x="1460.8" y="383.92" width="51.2" height="11.3" rx="1.5" fill="rgb(234,134,8)"/>
<rect x="1461.0" y="371.62" width="10.0" height="11.3" rx="1.5" fill="rgb(240,140,8)"/>
<rect x="1472.0" y="371.62" width="39.7" height="11.3" rx="1.5" fill="rgb(228,128,8)"/>
<rect x="1461.6" y="359.31" width="9.6" height="11.3" rx="1.5" fill="rgb(238,138,8)"/>
<rect x="1472.8" y="359.31" width="38.4" height="11.3" rx="1.5" fill="rgb(240,140,8)"/>
<rect x="1461.6" y="347.00" width="9.6" height="11.3" rx="1.5" fill="rgb(231,131,8)"/>
<rect x="1472.8" y="347.00" width="38.4" height="11.3" rx="1.5" fill="rgb(242,142,8)"/>
<rect x="1463.2" y="334.70" width="8.0" height="11.3" rx="1.5" fill="rgb(236,102,102)"/>
<rect x="1474.4" y="334.70" width="33.6" height="11.3" rx="1.5" fill="rgb(237,137,8)"/>
<rect x="1508.5" y="334.70" width="2.5" height="11.3" rx="0.3" fill="rgb(251,151,8)"/>
<rect x="1463.2" y="322.39" width="8.0" height="11.3" rx="1.5" fill="rgb(233,98,98)"/>
<rect x="1474.4" y="322.39" width="33.6" height="11.3" rx="1.5" fill="rgb(233,133,8)"/>
<rect x="1509.0" y="322.39" width="2.0" height="11.3" rx="0.3" fill="rgb(249,149,8)"/>
<rect x="1465.6" y="310.09" width="1.4" height="11.3" rx="0.3" fill="rgb(244,114,114)"/>
<rect x="1468.5" y="310.09" width="1.9" height="11.3" rx="0.3" fill="rgb(243,113,113)"/>
<rect x="1474.4" y="310.09" width="33.6" height="11.3" rx="1.5" fill="rgb(233,133,8)"/>
<rect x="1509.0" y="310.09" width="2.0" height="11.3" rx="0.3" fill="rgb(229,129,8)"/>
<rect x="1469.5" y="297.78" width="1.0" height="11.3" rx="0.3" fill="rgb(241,110,110)"/>
<rect x="1474.4" y="297.78" width="33.1" height="11.3" rx="1.5" fill="rgb(231,131,8)"/>
<rect x="1509.5" y="297.78" width="1.0" height="11.3" rx="0.3" fill="rgb(244,144,8)"/>
<rect x="1469.5" y="285.48" width="1.0" height="11.3" rx="0.3" fill="rgb(239,106,106)"/>
<rect x="1474.4" y="285.48" width="32.8" height="11.3" rx="1.5" fill="rgb(252,152,8)"/>
<rect x="1474.4" y="273.18" width="32.8" height="11.3" rx="1.5" fill="rgb(230,130,8)"/>
<rect x="1474.4" y="260.87" width="33.1" height="11.3" rx="1.5" fill="rgb(245,145,8)"/>
<rect x="1474.4" y="248.57" width="31.6" height="11.3" rx="1.5" fill="rgb(240,140,8)"/>
<rect x="1474.5" y="236.26" width="31.2" height="11.3" rx="1.5" fill="rgb(235,135,8)"/>
<rect x="1475.0" y="223.96" width="30.4" height="11.3" rx="1.5" fill="rgb(249,149,8)"/>
<rect x="1475.3" y="211.65" width="30.1" height="11.3" rx="1.5" fill="rgb(245,145,8)"/>
<rect x="1475.3" y="199.35" width="30.1" height="11.3" rx="1.5" fill="rgb(244,144,8)"/>
<rect x="1476.2" y="187.04" width="28.7" height="11.3" rx="1.5" fill="rgb(246,146,8)"/>
<rect x="1477.0" y="174.74" width="27.9" height="11.3" rx="1.5" fill="rgb(247,147,8)"/>
<rect x="1477.0" y="162.43" width="27.9" height="11.3" rx="1.5" fill="rgb(252,152,8)"/>
<rect x="1477.3" y="150.12" width="0.7" height="11.3" rx="0.3" fill="rgb(252,152,8)"/>
<rect x="1478.4" y="150.12" width="25.9" height="11.3" rx="1.5" fill="rgb(248,148,8)"/>
<rect x="1477.5" y="137.82" width="0.7" height="11.3" rx="0.3" fill="rgb(248,148,8)"/>
<rect x="1480.9" y="137.82" width="23.1" height="11.3" rx="1.5" fill="rgb(228,128,8)"/>
<rect x="1477.5" y="125.51" width="0.7" height="11.3" rx="0.3" fill="rgb(234,134,8)"/>
<rect x="1482.6" y="125.51" width="21.4" height="11.3" rx="1.5" fill="rgb(250,150,8)"/>
<rect x="1477.5" y="113.21" width="0.7" height="11.3" rx="0.3" fill="rgb(233,133,8)"/>
<rect x="1482.0" y="113.21" width="22.0" height="11.3" rx="1.5" fill="rgb(226,126,8)"/>
<rect x="1477.5" y="100.90" width="0.7" height="11.3" rx="0.3" fill="rgb(236,136,8)"/>
<rect x="1482.0" y="100.90" width="22.0" height="11.3" rx="1.5" fill="rgb(247,147,8)"/>
<rect x="1477.5" y="88.60" width="0.7" height="11.3" rx="0.3" fill="rgb(234,134,8)"/>
<rect x="1482.0" y="88.60" width="22.0" height="11.3" rx="1.5" fill="rgb(239,139,8)"/>
<rect x="1477.5" y="76.30" width="0.7" height="11.3" rx="0.3" fill="rgb(226,126,8)"/>
<rect x="1482.0" y="76.30" width="22.0" height="11.3" rx="1.5" fill="rgb(238,138,8)"/>
<rect x="1477.5" y="63.99" width="0.7" height="11.3" rx="0.3" fill="rgb(227,127,8)"/>
<rect x="1482.0" y="63.99" width="22.0" height="11.3" rx="1.5" fill="rgb(230,130,8)"/>
<text x="984.4" y="1081.30" textLength="10.6" lengthAdjust="spacingAndGlyphs">all</text>
<text x="984.4" y="1068.99" textLength="19.6" lengthAdjust="spacingAndGlyphs">java</text>
<text x="984.4" y="1056.69" textLength="10.9" lengthAdjust="spacingAndGlyphs">[..</text>
<text x="1001.4" y="1056.69" textLength="50.1" lengthAdjust="spacingAndGlyphs">[unknown]</text>
<text x="1307.7" y="1056.69" textLength="57.4" lengthAdjust="spacingAndGlyphs">start_thread</text>
<text x="1001.4" y="1044.38" textLength="50.1" lengthAdjust="spacingAndGlyphs">[unknown]</text>
<text x="1186.5" y="1044.38" textLength="115.1" lengthAdjust="spacingAndGlyphs">sun/nio/ch/FileDispatc..</text>
<text x="1307.7" y="1044.38" textLength="119.4" lengthAdjust="spacingAndGlyphs">_ZL10java_startP6Thread</text>
<text x="984.4" y="1032.08" textLength="10.9" lengthAdjust="spacingAndGlyphs">[..</text>
<text x="1011.7" y="1032.08" textLength="93.4" lengthAdjust="spacingAndGlyphs">[libpthread-2.23.so]</text>
<text x="1187.4" y="1032.08" textLength="21.6" lengthAdjust="spacingAndGlyphs">[lib..</text>
<text x="1225.8" y="1032.08" textLength="35.2" lengthAdjust="spacingAndGlyphs">__GI_..</text>
<text x="1307.7" y="1032.08" textLength="116.1" lengthAdjust="spacingAndGlyphs">_ZN10JavaThread3runEv</text>
<text x="1011.6" y="1019.77" textLength="132.5" lengthAdjust="spacingAndGlyphs">entry_SYSCALL_64_fastpath</text>
<text x="1187.5" y="1019.77" textLength="21.6" lengthAdjust="spacingAndGlyphs">ent..</text>
<text x="1225.8" y="1019.77" textLength="31.0" lengthAdjust="spacingAndGlyphs">entry..</text>
<text x="1307.7" y="1019.77" textLength="194.5" lengthAdjust="spacingAndGlyphs">_ZN10JavaThread17thread_main_innerEv</text>
<text x="1012.2" y="1007.47" textLength="43.8" lengthAdjust="spacingAndGlyphs">sys_write</text>
<text x="1188.8" y="1007.47" textLength="16.9" lengthAdjust="spacingAndGlyphs">sy..</text>
<text x="1226.4" y="1007.47" textLength="33.1" lengthAdjust="spacingAndGlyphs">sys_a..</text>
<text x="1307.7" y="1007.47" textLength="202.5" lengthAdjust="spacingAndGlyphs">_ZL12thread_entryP10JavaThreadP6Thread</text>
<text x="1013.9" y="995.16" textLength="42.3" lengthAdjust="spacingAndGlyphs">vfs_write</text>
<text x="1188.8" y="995.16" textLength="17.9" lengthAdjust="spacingAndGlyphs">ep..</text>
<text x="1227.2" y="995.16" textLength="24.9" lengthAdjust="spacingAndGlyphs">SYS..</text>
<text x="1307.7" y="995.16" textLength="405.9" lengthAdjust="spacingAndGlyphs">_ZN9JavaCalls12call_virtualEP9JavaValue6Handle11KlassHandleP6SymbolS5_P6Thread</text>
<text x="1014.4" y="982.86" textLength="54.0" lengthAdjust="spacingAndGlyphs">__vfs_write</text>
<text x="1192.6" y="982.86" textLength="11.5" lengthAdjust="spacingAndGlyphs">s..</text>
<text x="1307.7" y="982.86" textLength="473.4" lengthAdjust="spacingAndGlyphs">_ZN9JavaCalls12call_virtualEP9JavaValue11KlassHandleP6SymbolS4_P17JavaCallArgumentsP6Thread</text>
<text x="1015.3" y="970.55" textLength="70.8" lengthAdjust="spacingAndGlyphs">sock_write_iter</text>
<text x="1193.4" y="970.55" textLength="11.5" lengthAdjust="spacingAndGlyphs">s..</text>
<text x="1307.7" y="970.55" textLength="425.7" lengthAdjust="spacingAndGlyphs">_ZN9JavaCalls11call_helperEP9JavaValueP12methodHandleP17JavaCallArgumentsP6Thread</text>
<text x="1015.3" y="958.25" textLength="67.7" lengthAdjust="spacingAndGlyphs">sock_sendmsg</text>
<text x="1307.7" y="958.25" textLength="41.2" lengthAdjust="spacingAndGlyphs">call_stub</text>
<text x="1016.0" y="945.94" textLength="64.5" lengthAdjust="spacingAndGlyphs">inet_sendmsg</text>
<text x="1307.7" y="945.94" textLength="50.8" lengthAdjust="spacingAndGlyphs">Interpreter</text>
<text x="1018.1" y="933.64" textLength="61.3" lengthAdjust="spacingAndGlyphs">tcp_sendmsg</text>
<text x="1199.2" y="933.64" textLength="9.9" lengthAdjust="spacingAndGlyphs">f..</text>
<text x="1307.7" y="933.64" textLength="50.8" lengthAdjust="spacingAndGlyphs">Interpreter</text>
<text x="1035.4" y="921.33" textLength="42.2" lengthAdjust="spacingAndGlyphs">tcp_push</text>
<text x="1309.9" y="921.33" textLength="192.2" lengthAdjust="spacingAndGlyphs">io/netty/channel/nio/NioEventLoop::run</text>
<text x="1035.4" y="909.03" textLength="91.7" lengthAdjust="spacingAndGlyphs">__tcp_push_pendi..</text>
<text x="1311.4" y="909.03" textLength="273.0" lengthAdjust="spacingAndGlyphs">io/netty/channel/nio/NioEventLoop::processSelectedKeys</text>
<text x="1830.6" y="909.03" textLength="30.2" lengthAdjust="spacingAndGlyphs">io/ne..</text>
<text x="1864.9" y="909.03" textLength="14.8" lengthAdjust="spacingAndGlyphs">io..</text>
<text x="1035.9" y="896.72" textLength="69.4" lengthAdjust="spacingAndGlyphs">tcp_write_xmit</text>
<text x="1316.7" y="896.72" textLength="318.8" lengthAdjust="spacingAndGlyphs">io/netty/channel/nio/AbstractNioByteChannel$NioByteUnsafe::read</text>
<text x="1687.9" y="896.72" textLength="136.8" lengthAdjust="spacingAndGlyphs">io/netty/channel/nio/Abstra..</text>
<text x="1833.2" y="896.72" textLength="27.6" lengthAdjust="spacingAndGlyphs">sun/..</text>
<text x="1043.0" y="884.42" textLength="80.6" lengthAdjust="spacingAndGlyphs">tcp_transmit_skb</text>
<text x="1321.2" y="884.42" textLength="316.9" lengthAdjust="spacingAndGlyphs">io/netty/channel/AbstractChannelHandlerContext::fireChannelRead</text>
<text x="1689.6" y="884.42" textLength="50.5" lengthAdjust="spacingAndGlyphs">io/netty/..</text>
<text x="1747.4" y="884.42" textLength="66.6" lengthAdjust="spacingAndGlyphs">io/netty/cha..</text>
<text x="1835.0" y="884.42" textLength="17.3" lengthAdjust="spacingAndGlyphs">su..</text>
<text x="1044.4" y="872.12" textLength="68.8" lengthAdjust="spacingAndGlyphs">ip_queue_xmit</text>
<text x="1321.9" y="872.12" textLength="350.0" lengthAdjust="spacingAndGlyphs">org/vertx/java/core/http/impl/cgbystrom/FlashPolicyHandler::channelR..</text>
<text x="1689.6" y="872.12" textLength="44.6" lengthAdjust="spacingAndGlyphs">io/netty..</text>
<text x="1778.1" y="872.12" textLength="37.3" lengthAdjust="spacingAndGlyphs">sun/ni..</text>
<text x="1044.4" y="859.81" textLength="55.9" lengthAdjust="spacingAndGlyphs">ip_local_out</text>
<text x="1321.9" y="859.81" textLength="316.9" lengthAdjust="spacingAndGlyphs">io/netty/channel/AbstractChannelHandlerContext::fireChannelRead</text>
<text x="1696.0" y="859.81" textLength="9.2" lengthAdjust="spacingAndGlyphs">i..</text>
<text x="1777.3" y="859.81" textLength="16.4" lengthAdjust="spacingAndGlyphs">Ja..</text>
<text x="1057.9" y="847.50" textLength="44.3" lengthAdjust="spacingAndGlyphs">ip_output</text>
<text x="1324.2" y="847.50" textLength="293.3" lengthAdjust="spacingAndGlyphs">io/netty/handler/codec/ByteToMessageDecoder::channelRead</text>
<text x="1696.0" y="847.50" textLength="9.2" lengthAdjust="spacingAndGlyphs">i..</text>
<text x="1057.7" y="835.20" textLength="66.4" lengthAdjust="spacingAndGlyphs">ip_finish_out..</text>
<text x="1326.4" y="835.20" textLength="306.9" lengthAdjust="spacingAndGlyphs">io/netty/channel/AbstractChannelHandlerContext::fireChannelR..</text>
<text x="1643.4" y="835.20" textLength="20.7" lengthAdjust="spacingAndGlyphs">io/..</text>
<text x="1058.4" y="822.89" textLength="62.8" lengthAdjust="spacingAndGlyphs">ip_finish_ou..</text>
<text x="1327.9" y="822.89" textLength="276.0" lengthAdjust="spacingAndGlyphs">org/vertx/java/core/net/impl/VertxHandler::channelRead</text>
<text x="1643.6" y="822.89" textLength="14.8" lengthAdjust="spacingAndGlyphs">io..</text>
<text x="1060.4" y="810.59" textLength="50.9" lengthAdjust="spacingAndGlyphs">__local_b..</text>
<text x="1332.4" y="810.59" textLength="305.5" lengthAdjust="spacingAndGlyphs">org/vertx/java/core/http/impl/DefaultHttpServer$ServerHandle..</text>
<text x="1060.4" y="798.28" textLength="53.3" lengthAdjust="spacingAndGlyphs">do_softirq..</text>
<text x="1342.2" y="798.28" textLength="289.7" lengthAdjust="spacingAndGlyphs">org/mozilla/javascript/gen/file__mnt_src_vert_x_2_1_5_sy..</text>
<text x="1060.4" y="785.98" textLength="53.3" lengthAdjust="spacingAndGlyphs">do_softirq..</text>
<text x="1347.4" y="785.98" textLength="289.7" lengthAdjust="spacingAndGlyphs">org/mozilla/javascript/gen/file__mnt_src_vert_x_2_1_5_sy..</text>
<text x="1060.8" y="773.67" textLength="58.3" lengthAdjust="spacingAndGlyphs">__do_softirq</text>
<text x="1350.4" y="773.67" textLength="183.6" lengthAdjust="spacingAndGlyphs">org/mozilla/javascript/gen/file__mnt..</text>
<text x="1539.8" y="773.67" textLength="97.3" lengthAdjust="spacingAndGlyphs">org/mozilla/javascr..</text>
<text x="1060.8" y="761.37" textLength="56.6" lengthAdjust="spacingAndGlyphs">net_rx_act..</text>
<text x="1354.9" y="761.37" textLength="178.7" lengthAdjust="spacingAndGlyphs">org/mozilla/javascript/optimizer/Op..</text>
<text x="1542.0" y="761.37" textLength="94.8" lengthAdjust="spacingAndGlyphs">org/mozilla/javasc..</text>
<text x="1062.4" y="749.06" textLength="47.6" lengthAdjust="spacingAndGlyphs">process_..</text>
<text x="1357.2" y="749.06" textLength="177.7" lengthAdjust="spacingAndGlyphs">org/mozilla/javascript/gen/file__mn..</text>
<text x="1542.4" y="749.06" textLength="27.8" lengthAdjust="spacingAndGlyphs">org/..</text>
<text x="1603.4" y="749.06" textLength="12.3" lengthAdjust="spacingAndGlyphs">o..</text>
<text x="1062.6" y="736.76" textLength="48.8" lengthAdjust="spacingAndGlyphs">__netif_r..</text>
<text x="1360.2" y="736.76" textLength="167.0" lengthAdjust="spacingAndGlyphs">org/mozilla/javascript/NativeJava..</text>
<text x="1543.0" y="736.76" textLength="27.8" lengthAdjust="spacingAndGlyphs">org/..</text>
<text x="1604.2" y="736.76" textLength="12.3" lengthAdjust="spacingAndGlyphs">o..</text>
<text x="1063.4" y="724.45" textLength="48.8" lengthAdjust="spacingAndGlyphs">__netif_r..</text>
<text x="1365.4" y="724.45" textLength="39.2" lengthAdjust="spacingAndGlyphs">io/nett..</text>
<text x="1410.4" y="724.45" textLength="117.8" lengthAdjust="spacingAndGlyphs">io/netty/channel/Defau..</text>
<text x="1543.7" y="724.45" textLength="27.8" lengthAdjust="spacingAndGlyphs">org/..</text>
<text x="1064.9" y="712.15" textLength="28.3" lengthAdjust="spacingAndGlyphs">ip_rcv</text>
<text x="1365.4" y="712.15" textLength="35.5" lengthAdjust="spacingAndGlyphs">io/net..</text>
<text x="1411.1" y="712.15" textLength="116.1" lengthAdjust="spacingAndGlyphs">io/netty/channel/Abstr..</text>
<text x="1064.9" y="699.85" textLength="46.6" lengthAdjust="spacingAndGlyphs">ip_rcv_fi..</text>
<text x="1367.7" y="699.85" textLength="9.2" lengthAdjust="spacingAndGlyphs">i..</text>
<text x="1387.9" y="699.85" textLength="16.2" lengthAdjust="spacingAndGlyphs">or..</text>
<text x="1411.1" y="699.85" textLength="115.7" lengthAdjust="spacingAndGlyphs">io/netty/channel/Chan..</text>
<text x="1065.4" y="687.54" textLength="41.8" lengthAdjust="spacingAndGlyphs">ip_local..</text>
<text x="1367.7" y="687.54" textLength="9.2" lengthAdjust="spacingAndGlyphs">i..</text>
<text x="1388.4" y="687.54" textLength="14.8" lengthAdjust="spacingAndGlyphs">io..</text>
<text x="1411.1" y="687.54" textLength="116.1" lengthAdjust="spacingAndGlyphs">io/netty/channel/Abstr..</text>
<text x="1065.4" y="675.23" textLength="41.8" lengthAdjust="spacingAndGlyphs">ip_local..</text>
<text x="1367.7" y="675.23" textLength="9.2" lengthAdjust="spacingAndGlyphs">i..</text>
<text x="1388.4" y="675.23" textLength="14.8" lengthAdjust="spacingAndGlyphs">io..</text>
<text x="1411.1" y="675.23" textLength="115.1" lengthAdjust="spacingAndGlyphs">io/netty/channel/Chan..</text>
<text x="1065.9" y="662.93" textLength="43.8" lengthAdjust="spacingAndGlyphs">tcp_v4_..</text>
<text x="1367.7" y="662.93" textLength="9.2" lengthAdjust="spacingAndGlyphs">i..</text>
<text x="1389.7" y="662.93" textLength="9.2" lengthAdjust="spacingAndGlyphs">i..</text>
<text x="1411.7" y="662.93" textLength="114.2" lengthAdjust="spacingAndGlyphs">io/netty/channel/Abstr..</text>
<text x="1069.4" y="650.62" textLength="38.0" lengthAdjust="spacingAndGlyphs">tcp_v4..</text>
<text x="1367.7" y="650.62" textLength="9.2" lengthAdjust="spacingAndGlyphs">i..</text>
<text x="1411.7" y="650.62" textLength="114.2" lengthAdjust="spacingAndGlyphs">io/netty/channel/Defau..</text>
<text x="1072.4" y="638.32" textLength="35.4" lengthAdjust="spacingAndGlyphs">tcp_rc..</text>
<text x="1367.7" y="638.32" textLength="9.2" lengthAdjust="spacingAndGlyphs">i..</text>
<text x="1411.7" y="638.32" textLength="112.5" lengthAdjust="spacingAndGlyphs">io/netty/channel/Abst..</text>
<text x="1085.3" y="626.01" textLength="21.9" lengthAdjust="spacingAndGlyphs">soc..</text>
<text x="1367.7" y="626.01" textLength="9.2" lengthAdjust="spacingAndGlyphs">i..</text>
<text x="1413.1" y="626.01" textLength="108.9" lengthAdjust="spacingAndGlyphs">java/nio/channels/sp..</text>
<text x="1085.4" y="613.71" textLength="18.4" lengthAdjust="spacingAndGlyphs">__..</text>
<text x="1368.4" y="613.71" textLength="9.2" lengthAdjust="spacingAndGlyphs">i..</text>
<text x="1417.7" y="613.71" textLength="101.2" lengthAdjust="spacingAndGlyphs">sun/nio/ch/FileDisp..</text>
<text x="1085.4" y="601.40" textLength="16.5" lengthAdjust="spacingAndGlyphs">_r..</text>
<text x="1368.4" y="601.40" textLength="9.2" lengthAdjust="spacingAndGlyphs">i..</text>
<text x="1422.4" y="601.40" textLength="34.8" lengthAdjust="spacingAndGlyphs">__dup2</text>
<text x="1085.4" y="589.10" textLength="23.4" lengthAdjust="spacingAndGlyphs">xen..</text>
<text x="1425.7" y="589.10" textLength="89.6" lengthAdjust="spacingAndGlyphs">entry_SYSCALL_6..</text>
<text x="1085.4" y="576.79" textLength="22.8" lengthAdjust="spacingAndGlyphs">che..</text>
<text x="1425.7" y="576.79" textLength="90.3" lengthAdjust="spacingAndGlyphs">syscall_return_slo..</text>
<text x="1085.4" y="564.49" textLength="17.6" lengthAdjust="spacingAndGlyphs">xe..</text>
<text x="1426.0" y="564.49" textLength="96.2" lengthAdjust="spacingAndGlyphs">exit_to_usermode_..</text>
<text x="1426.3" y="552.18" textLength="69.0" lengthAdjust="spacingAndGlyphs">task_work_run</text>
<text x="1426.3" y="539.88" textLength="41.8" lengthAdjust="spacingAndGlyphs">____fput</text>
<text x="1426.3" y="527.57" textLength="30.1" lengthAdjust="spacingAndGlyphs">__fput</text>
<text x="1437.4" y="515.27" textLength="49.6" lengthAdjust="spacingAndGlyphs">sock_close</text>
<text x="1438.4" y="502.96" textLength="59.6" lengthAdjust="spacingAndGlyphs">sock_release</text>
<text x="1444.1" y="490.66" textLength="62.2" lengthAdjust="spacingAndGlyphs">inet6_release</text>
<text x="1444.1" y="478.36" textLength="56.4" lengthAdjust="spacingAndGlyphs">inet_release</text>
<text x="1447.2" y="466.05" textLength="43.1" lengthAdjust="spacingAndGlyphs">tcp_close</text>
<text x="1450.2" y="453.75" textLength="59.2" lengthAdjust="spacingAndGlyphs">tcp_send_fin</text>
<text x="1452.0" y="441.44" textLength="54.7" lengthAdjust="spacingAndGlyphs">__tcp_pus..</text>
<text x="1454.4" y="429.14" textLength="49.7" lengthAdjust="spacingAndGlyphs">tcp_write..</text>
<text x="1457.0" y="416.83" textLength="45.6" lengthAdjust="spacingAndGlyphs">tcp_tran..</text>
<text x="1463.2" y="404.53" textLength="43.6" lengthAdjust="spacingAndGlyphs">ip_queu..</text>
<text x="1463.2" y="392.22" textLength="41.8" lengthAdjust="spacingAndGlyphs">ip_local..</text>
<text x="1474.4" y="379.92" textLength="32.2" lengthAdjust="spacingAndGlyphs">ip_ou..</text>
<text x="1475.2" y="367.61" textLength="32.4" lengthAdjust="spacingAndGlyphs">ip_fin..</text>
<text x="1475.2" y="355.31" textLength="32.4" lengthAdjust="spacingAndGlyphs">ip_fin..</text>
<text x="1476.8" y="343.00" textLength="26.5" lengthAdjust="spacingAndGlyphs">__lo..</text>
<text x="1476.8" y="330.69" textLength="28.7" lengthAdjust="spacingAndGlyphs">do_s..</text>
<text x="1476.8" y="318.39" textLength="28.7" lengthAdjust="spacingAndGlyphs">do_s..</text>
<text x="1476.8" y="306.08" textLength="24.1" lengthAdjust="spacingAndGlyphs">__d..</text>
<text x="1476.8" y="293.78" textLength="21.6" lengthAdjust="spacingAndGlyphs">net..</text>
<text x="1476.8" y="281.48" textLength="21.9" lengthAdjust="spacingAndGlyphs">pro..</text>
<text x="1476.8" y="269.17" textLength="29.7" lengthAdjust="spacingAndGlyphs">__ne..</text>
<text x="1476.8" y="256.87" textLength="28.4" lengthAdjust="spacingAndGlyphs">__ne..</text>
<text x="1476.9" y="244.56" textLength="28.0" lengthAdjust="spacingAndGlyphs">ip_rcv</text>
<text x="1477.4" y="232.26" textLength="24.7" lengthAdjust="spacingAndGlyphs">ip_r..</text>
<text x="1477.7" y="219.95" textLength="23.3" lengthAdjust="spacingAndGlyphs">ip_l..</text>
<text x="1477.7" y="207.65" textLength="23.3" lengthAdjust="spacingAndGlyphs">ip_l..</text>
<text x="1478.6" y="195.34" textLength="20.8" lengthAdjust="spacingAndGlyphs">tcp..</text>
<text x="1479.4" y="183.04" textLength="20.8" lengthAdjust="spacingAndGlyphs">tcp..</text>
<text x="1479.4" y="170.73" textLength="20.8" lengthAdjust="spacingAndGlyphs">tcp..</text>
<text x="1480.8" y="158.43" textLength="15.1" lengthAdjust="spacingAndGlyphs">tc..</text>
<text x="1483.3" y="146.12" textLength="15.1" lengthAdjust="spacingAndGlyphs">tc..</text>
<text x="1485.0" y="133.81" textLength="11.5" lengthAdjust="spacingAndGlyphs">s..</text>
<text x="1484.4" y="121.51" textLength="12.5" lengthAdjust="spacingAndGlyphs">_..</text>
<text x="1484.4" y="109.20" textLength="12.5" lengthAdjust="spacingAndGlyphs">_..</text>
<text x="1484.4" y="96.90" textLength="12.1" lengthAdjust="spacingAndGlyphs">x..</text>
<text x="1484.4" y="84.60" textLength="11.5" lengthAdjust="spacingAndGlyphs">c..</text>
<text x="1484.4" y="72.29" textLength="12.1" lengthAdjust="spacingAndGlyphs">x..</text>
</g>
<line x1="777" y1="315.5" x2="1412.1" y2="427.3" stroke="#000" stroke-width="4.4"/><polygon points="1432.2,431.1 1412.2,416.2 1408,438.4" fill="#000"/>
<line x1="781" y1="341" x2="1051.8" y2="599.2" stroke="#000" stroke-width="4.4"/><polygon points="1066.7,615.3 1057.8,591.1 1041.8,607.3" fill="#000"/>
<line x1="777.3" y1="682.8" x2="1412.2" y2="794.2" stroke="#000" stroke-width="4.4"/><polygon points="1431.8,797.6 1411.8,784.2 1408.7,804.2" fill="#000"/>
<line x1="780.7" y1="1026.9" x2="1412.0" y2="1026.8" stroke="#000" stroke-width="4.4"/><polygon points="1431.8,1026.7 1410,1016.4 1410,1037.3" fill="#000"/>
</svg>
</body></html>
